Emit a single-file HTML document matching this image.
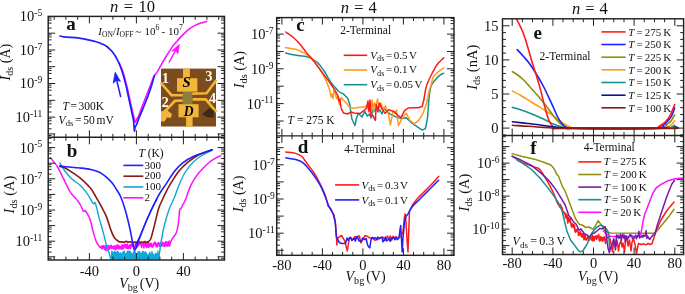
<!DOCTYPE html>
<html><head><meta charset="utf-8"><style>
html,body{margin:0;padding:0;background:#fff;width:685px;height:294px;overflow:hidden}
svg{display:block;will-change:transform}
</style></head><body>
<svg width="685" height="294" viewBox="0 0 685 294" font-family="'Liberation Serif', serif" fill="#111">
<rect width="685" height="294" fill="#fff"/>
<path d="M119,62.5 C119.5,63.5 120.8,66.2 121.7,68.5 C122.6,70.8 123.4,73.1 124.2,76 C125,78.9 125.9,82.5 126.8,86 C127.7,89.5 128.5,93.3 129.3,97 C130.1,100.7 130.9,104.7 131.7,108 C132.4,111.3 133.2,114.6 133.8,117 C134.4,119.4 134.5,121.8 135,122.2 C135.5,122.6 136,120.6 136.6,119.5 C137.2,118.4 137.9,117.5 138.8,115.5 C139.7,113.5 140.8,109.9 141.8,107.3 C142.8,104.7 143.7,102.5 144.7,100 C145.7,97.5 146.8,94.6 147.8,92 C148.8,89.4 149.7,87 150.7,84.5 C151.7,82 152.7,78.8 153.8,76.7 C154.9,74.6 156.1,73.8 157.1,72.1 C158.1,70.4 159.1,68.6 160.1,66.8 C161.1,65 162,63.3 163.1,61.4 C164.2,59.5 165.5,57.4 166.7,55.5 C167.9,53.6 169.1,51.8 170.2,50.1 C171.3,48.5 172,47.1 173.2,45.6 C174.4,44.1 175.8,42.5 177.2,41 C178.5,39.5 179.9,37.9 181.3,36.4 C182.7,34.9 183.9,33.7 185.4,32.3 C186.9,30.9 188.8,29.4 190.5,28.2 C192.2,27 193.9,26 195.6,25.1 C197.3,24.2 198.9,23.7 200.7,23.1 C202.5,22.5 205.6,21.8 206.6,21.5" fill="none" stroke="#ff10ff" stroke-width="1.6" stroke-linejoin="round" stroke-linecap="round"/>
<path d="M60,36 C60.7,36.1 62.4,36.7 64,36.9 C65.6,37.1 68,37.3 69.8,37.4 C71.6,37.5 73.2,37.4 75,37.6 C76.8,37.8 78.9,38.1 80.7,38.4 C82.5,38.7 84.2,39 86,39.4 C87.8,39.8 89.9,40.2 91.6,40.6 C93.3,41 94.5,41.3 96,41.7 C97.5,42.1 99,42.7 100.3,43.2 C101.5,43.7 102.4,44.1 103.5,44.6 C104.6,45.1 105.7,45.7 106.8,46.5 C107.9,47.3 109.1,48.5 110,49.3 C110.9,50.1 111.2,50.2 112.1,51.4 C113,52.6 114.5,54.6 115.5,56.3 C116.5,58 117.3,59.5 118.2,61.5 C119.1,63.5 120.1,65.9 121,68.3 C121.9,70.7 122.7,73.1 123.5,76 C124.3,78.9 125.3,82.6 126.1,85.9 C126.9,89.2 127.5,92.5 128.3,96 C129.1,99.5 130,103.8 130.7,107 C131.4,110.2 132,113.2 132.5,115.5 C133,117.8 133.3,119.2 133.6,121 C133.8,122.8 133.9,124.3 134,126 C134.1,127.7 134.2,130.8 134.4,131 C134.6,131.2 134.8,128.1 135.2,127 C135.6,125.9 136,125.9 136.6,124.5 C137.2,123.1 137.8,121 138.8,118.5 C139.8,116 141.2,112.6 142.4,109.8 C143.6,107 144.8,104 145.8,101.5 C146.8,99 147.5,97.2 148.5,94.5 C149.5,91.8 150.6,88.7 151.6,85.5 C152.6,82.3 153.9,77.2 154.4,75.5" fill="none" stroke="#1f1fff" stroke-width="1.7" stroke-linejoin="round" stroke-linecap="round"/>
<path d="M120.6,96.5 L115.6,75.5" fill="none" stroke="#1f1fff" stroke-width="1.5" stroke-linejoin="round" stroke-linecap="round"/>
<path d="M115.2,72.3 L113.2,83.2 L116.6,80.2 L120.4,81.4 Z" fill="#1f1fff" stroke="#1f1fff" stroke-width="0.8" stroke-linejoin="round"/>
<path d="M169.3,62 L177.4,47" fill="none" stroke="#ff10ff" stroke-width="1.5" stroke-linejoin="round" stroke-linecap="round"/>
<path d="M179.4,44.5 L171.6,51.2 L175.6,50.2 L177.9,53.8 Z" fill="#ff10ff" stroke="#ff10ff" stroke-width="0.8" stroke-linejoin="round"/>
<rect x="161" y="68.6" width="55" height="57.9" fill="#7b4c1e"/>
<g fill="#f3b63a" stroke="none">
<rect x="183.1" y="68.6" width="6.8" height="10.5"/>
<rect x="186.1" y="116" width="6.5" height="10.5"/>
</g>
<g fill="none" stroke="#f3b63a" stroke-width="2.6" stroke-linejoin="miter">
<path d="M160.5,82.5 L171.5,95.2 L184,95.2"/>
<path d="M216.5,80 L206.5,93.2 L192,93.6"/>
<path d="M184.5,100.5 L175,100.8 L162,114.5"/>
<path d="M192.5,99.4 L205.7,99.4 L216.5,112"/>
</g>
<path d="M161,111.5 L166.5,109.8 L172,114 L171,117.8 L167,117.6 L164.5,121.5 L161,121.5 Z" fill="#f3b63a"/>
<rect x="182.6" y="91.5" width="9.8" height="12.8" fill="#8c7d3c"/>
<rect x="177" y="78.2" width="20.4" height="13.4" fill="#f3b63a"/>
<rect x="178.5" y="104.2" width="20.1" height="13.1" fill="#f3b63a"/>
<path d="M201.9,114.5 L209.5,107.8 L214.2,111 L213.5,117.5 L208,117.2 Z" fill="#3e2a14"/>
<text x="186.6" y="86.6" font-size="14.6" font-weight="bold" font-style="italic" text-anchor="middle" fill="#000">S</text>
<text x="188.6" y="115.6" font-size="13.6" font-weight="bold" font-style="italic" text-anchor="middle" fill="#000">D</text>
<text x="165.3" y="82.7" font-size="14.6" font-weight="bold" text-anchor="middle" fill="#fffaf0">1</text>
<text x="165.2" y="107.4" font-size="14.6" font-weight="bold" text-anchor="middle" fill="#fffaf0">2</text>
<text x="208.9" y="80.6" font-size="14.6" font-weight="bold" text-anchor="middle" fill="#fffaf0">3</text>
<text x="212.5" y="102.6" font-size="14.6" font-weight="bold" text-anchor="middle" fill="#fffaf0">4</text>
<rect x="110.5" y="255.5" width="49" height="4" fill="#10a8d8"/>
<path d="M50.2,157.5 C51.4,159.1 55.5,163.6 57.6,167 C59.7,170.4 61,173.8 63,177.7 C65,181.6 67.8,187.6 69.4,190.5 C71,193.4 71.1,193.2 72.5,195 C73.9,196.8 76.6,199.4 78,201.2 C79.4,203 80.1,204.3 81,206 C81.9,207.7 82.7,210.4 83.4,211.2 C84.1,211.9 84.5,210.2 85,210.5 C85.5,210.8 85.9,211.2 86.7,212.7 C87.5,214.2 88.9,216 90,219.3 C91.1,222.6 92.3,228.7 93.4,232.6 C94.5,236.5 95.6,240.2 96.7,242.6 C97.8,245 99.5,246.4 100,247.2" fill="none" stroke="#ff10ff" stroke-width="1.5" stroke-linejoin="round" stroke-linecap="round"/>
<path d="M100,247.2 L101,247.4 L101.3,246.5 L101.6,249 L101.9,246 L102.2,248.4 L102.5,247.5 L102.8,245.9 L103.1,248.2 L103.4,245.7 L103.7,247.8 L104,245.9 L104.3,245.9 L104.6,247.7 L104.9,249.7 L105.2,246 L105.5,246.5 L105.8,248.6 L106.1,250.3 L106.4,248.3 L106.7,247.4 L107,250.4 L107.3,245.5 L107.6,249.7 L107.9,246.7 L108.2,245.9 L108.5,245.8 L108.8,246.8 L109.1,249.4 L109.4,246.1 L109.7,248.1 L110,248.4 L110.3,247 L110.6,247.9 L110.9,245.3 L111.2,245.3 L111.5,246 L111.8,248.5 L112.1,247.1 L112.4,246.5 L112.7,247.9 L113,247.2 L113.3,246.4 L113.6,248.9 L113.9,248.4 L114.2,246 L114.5,247.7 L114.8,247.5 L115.1,249.3 L115.4,248.5 L115.7,246.2 L116,249.7 L116.3,245.2 L116.6,246.8 L116.9,248.5 L117.2,245.4 L117.5,247.1 L117.8,244.7 L118.1,248 L118.4,248.5 L118.7,247.4 L119,249 L119.3,246.1 L119.6,248 L119.9,247.5 L120.2,247.4 L120.5,246.7 L120.8,248.7 L121.1,249.2 L121.4,246.7 L121.7,247.7 L122,244.5 L122.3,247.9 L122.6,247.6 L122.9,249.3 L123.2,248.4 L123.5,245.6 L123.8,246.1 L124.1,247.6 L124.4,244.2 L124.7,246.4 L125,244.9 L125.3,244.6 L125.6,244.3 L125.9,248 L126.2,244.6 L126.5,245.2 L126.8,245.9 L127.1,248.4 L127.4,244.3 L127.7,246.2 L128,246.7 L128.3,248.4 L128.6,248 L128.9,248.2 L129.2,245.2 L129.5,245.9 L129.8,245.5 L130.1,248.3 L130.4,248.6 L130.7,244.4 L131,244.5 L131.3,244.8 L131.6,244.8 L131.9,246.1 L132.2,246.6 L132.5,244.9 L132.8,243.5 L133.1,245.6 L133.4,245.4 L133.7,246.4 L134,248.3 L134.3,247 L134.6,246 L134.9,246.5 L135.2,246.8 L135.5,243.6 L135.8,247.9 L136.1,247.3 L136.4,247.8 L136.7,247.3 L137,245.2 L137.3,245.2 L137.6,243.7 L137.9,246.4 L138.2,243.4 L138.5,243.4 L138.8,244.1 L139.1,243.9 L139.4,244.8 L139.7,243.3 L140,243 L140.3,243.7 L140.6,243.5 L140.9,244.8 L141.2,243 L141.5,247.4 L141.8,246 L142.1,243.6 L142.4,244.1 L142.7,244.6 L143,244.7 L143.3,243.4 L143.6,247.1 L143.9,247.9 L144.2,245.1 L144.5,245.2 L144.8,243.1 L145.1,243.1 L145.4,244.4 L145.7,243.9 L146,246.9 L146.3,243.4 L146.6,242.6 L146.9,247.4 L147.2,245.2 L147.5,243.2 L147.8,245.2 L148.1,242.5 L148.4,245.1 L148.7,247.4 L149,246.8 L149.3,245.9 L149.6,243.7 L149.9,244.2 L150.2,243.1 L150.5,246.2 L150.8,245 L151.1,246.2 L151.4,243.9 L151.7,243.3 L152,246.3 L152.3,247.2 L152.6,246.5 L152.9,246.3 L153.2,246.3 L153.5,245.9 L153.8,243.2 L154.1,244.7 L154.4,243.8 L154.7,242.1 L155,242.1 L155.3,243.4 L155.6,243.2 L155.9,245.5 L156.2,246.8 L156.5,244.1 L156.8,246.7 L157.1,246.9 L157.4,246.7 L157.7,243.6 L158,242.9 L158.3,242.9 L158.6,242.7 L158.9,242.7 L159.2,244.9 L159.5,246.3 L159.8,246 L160.1,244.1 L160.4,244.9 L160.7,245.7 L161,241.9 L161.3,244.9 L161.6,246.2 L161.9,245.5 L162.2,245.3 L162.5,243.9 L162.8,242.3 L163.1,245.5 L163.4,243.1 L163.7,245.5 L164,246.3 L164.3,243.3 L164.6,243.3 L164.9,246.2 L165.2,245 L165.5,242.1 L165.8,241.8 L166.1,241.9 L166.4,245.8 L166.7,245.3 L167,241.8 L167.3,245.4 L167.6,246.1 L167.9,244.4 L168.2,242.8 L168.5,243.8 L168.8,241.6 L169.1,241 L169.4,246" fill="none" stroke="#ff10ff" stroke-width="1.5" stroke-linejoin="round" stroke-linecap="round"/>
<path d="M169.4,246 C169.8,244.8 170.8,241.4 172,239.2 C173.2,237 175.3,235.5 176.4,232.6 C177.5,229.7 178.1,225.3 178.6,221.5 C179.1,217.7 179.3,212.2 179.7,210 C180.1,207.8 180.5,209.2 181,208.5 C181.5,207.8 181.8,206.9 182.5,205.5 C183.2,204.1 184.1,202.8 185.3,200 C186.5,197.2 188.1,191.8 189.5,188.4 C190.9,185 192,182.7 193.8,179.8 C195.6,177 197.7,174.2 200.2,171.3 C202.7,168.5 206.3,164.8 208.8,162.7 C211.3,160.5 213.2,159.6 215.2,158.4 C217.2,157.2 219.7,156.2 220.6,155.8" fill="none" stroke="#ff10ff" stroke-width="1.5" stroke-linejoin="round" stroke-linecap="round"/>
<path d="M59.8,163.1 C60.7,164.5 63.1,168.7 65.1,171.3 C67.1,173.9 69.1,176.5 71.6,178.8 C74.1,181.1 77.6,182.9 80.1,185.2 C82.6,187.5 84.7,190.3 86.5,192.7 C88.3,195.1 89.6,197.7 90.8,199.5 C92,201.3 92.7,203.3 93.4,203.8 C94.1,204.3 94.5,202 95,202.5 C95.5,203 95.8,204.6 96.5,207 C97.2,209.4 97.8,212.8 98.9,217.1 C100,221.4 102,227.8 103.3,232.6 C104.6,237.4 105.6,242.6 106.6,245.9 C107.5,249.2 108.6,251.4 109,252.5" fill="none" stroke="#10a8d8" stroke-width="1.4" stroke-linejoin="round" stroke-linecap="round"/>
<path d="M109,252.5 L110,256.3 L110.3,257.3 L110.6,257.8 L110.9,259 L111.2,257.3 L111.5,258.8 L111.8,251.3 L112.1,255 L112.4,259 L112.7,256.6 L113,258.7 L113.3,252.1 L113.6,255 L113.9,253.2 L114.2,255.7 L114.5,255.9 L114.8,251.2 L115.1,252.9 L115.4,253.4 L115.7,258.8 L116,257.5 L116.3,252.4 L116.6,257.8 L116.9,252.3 L117.2,256.3 L117.5,252.2 L117.8,251.1 L118.1,258.4 L118.4,252.9 L118.7,252.9 L119,259.4 L119.3,258.4 L119.6,253.5 L119.9,259.2 L120.2,255.6 L120.5,256.8 L120.8,252.8 L121.1,259 L121.4,256.9 L121.7,259.2 L122,258.6 L122.3,253.6 L122.6,254.1 L122.9,252.5 L123.2,252.3 L123.5,251.6 L123.8,253.6 L124.1,256.2 L124.4,251.1 L124.7,256.8 L125,253.9 L125.3,253.7 L125.6,258 L125.9,255.1 L126.2,253.8 L126.5,255.1 L126.8,257 L127.1,251.6 L127.4,259.3 L127.7,251.3 L128,257.4 L128.3,258.2 L128.6,251.3 L128.9,257.7 L129.2,254.2 L129.5,256 L129.8,251.2 L130.1,251.5 L130.4,252.6 L130.7,259.1 L131,252.8 L131.3,257.4 L131.6,258.9 L131.9,259 L132.2,254 L132.5,254.1 L132.8,255.5 L133.1,257.6 L133.4,252 L133.7,257.4 L134,257.8 L134.3,258.3 L134.6,251.4 L134.9,259 L135.2,251.9 L135.5,254 L135.8,256.2 L136.1,258.8 L136.4,254 L136.7,258.9 L137,255.7 L137.3,253.7 L137.6,253.8 L137.9,252.6 L138.2,251.8 L138.5,252.4 L138.8,256.9 L139.1,259.5 L139.4,252.5 L139.7,251.5 L140,259.4 L140.3,255.6 L140.6,254.5 L140.9,253.1 L141.2,256.1 L141.5,258 L141.8,254.9 L142.1,254.6 L142.4,251.6 L142.7,258.8 L143,251.4 L143.3,255.2 L143.6,258.1 L143.9,252.2 L144.2,257.2 L144.5,259.1 L144.8,256.4 L145.1,257.7 L145.4,252 L145.7,254.8 L146,252.4 L146.3,258.2 L146.6,253.6 L146.9,254.9 L147.2,259.5 L147.5,258.3 L147.8,259.3 L148.1,254.9 L148.4,255.2 L148.7,257.2 L149,255.1 L149.3,253.5 L149.6,254.5 L149.9,252.3 L150.2,254.3 L150.5,259.4 L150.8,259.2 L151.1,256.4 L151.4,255.3 L151.7,253.9 L152,251.8 L152.3,253.4 L152.6,257.7 L152.9,258.4 L153.2,254.1 L153.5,257.7 L153.8,257.6 L154.1,256.9 L154.4,256.7 L154.7,257.5 L155,254.2 L155.3,257 L155.6,253.5 L155.9,255.2 L156.2,257.6 L156.5,256.9 L156.8,253.6 L157.1,259 L157.4,256.6 L157.7,256 L158,251.2 L158.3,255.7 L158.6,253.2 L158.9,256.7 L159.2,255" fill="none" stroke="#10a8d8" stroke-width="1.4" stroke-linejoin="round" stroke-linecap="round"/>
<path d="M159.2,255 C159.5,252.9 160.2,247.4 161,242.6 C161.8,237.8 162.9,231.3 164.2,226 C165.5,220.7 167.5,214.1 168.7,210.5 C169.9,206.9 170.2,206.8 171.2,204.5 C172.2,202.2 173.5,199.7 174.8,196.5 C176.1,193.3 177.1,189.6 178.8,185.5 C180.6,181.4 182.8,176 185.3,172 C187.8,168 191,164.4 193.8,161.6 C196.7,158.8 199.4,157.1 202.4,155.2 C205.4,153.3 210.4,151.1 212,150.3" fill="none" stroke="#10a8d8" stroke-width="1.4" stroke-linejoin="round" stroke-linecap="round"/>
<path d="M59.8,166.5 C60.7,166.8 62.8,166.8 65.1,168 C67.4,169.2 70.8,171.4 73.7,173.4 C76.6,175.4 79.5,177.3 82.3,179.8 C85.1,182.3 88.7,185.9 90.8,188.4 C92.9,190.9 93.1,192.1 94.8,195 C96.5,197.9 99.1,202.3 101.1,206 C103.1,209.7 104.9,213 106.6,217.1 C108.2,221.2 109.7,226.9 111,230.4 C112.3,233.9 113.1,235.9 114.4,237.8 C115.7,239.7 118.1,241 118.8,241.6" fill="none" stroke="#8b1a10" stroke-width="1.6" stroke-linejoin="round" stroke-linecap="round"/>
<path d="M118.8,241.6 L119.5,241.7 L120.7,242.1 L121.9,241.8 L123.1,242.1 L124.3,242.2 L125.5,241.5 L126.7,241.4 L127.9,242.4 L129.1,241.7 L130.3,241.7 L131.5,242.6 L132.7,242 L133.9,242.4 L135.1,242 L136.3,242.2 L137.5,241.6 L138.7,242.2 L139.9,242.4 L141.1,242 L142.3,242.3 L143.5,242.2 L144.7,241.5 L145.9,242.3 L147.1,242.1 L148.3,241.8" fill="none" stroke="#8b1a10" stroke-width="1.6" stroke-linejoin="round" stroke-linecap="round"/>
<path d="M148.3,241.8 C148.7,241.4 149.9,240.7 150.5,239.5 C151.1,238.3 151.2,237.8 152,234.8 C152.8,231.8 154.3,225.9 155.4,221.5 C156.5,217.1 157.5,212 158.7,208.3 C159.9,204.6 161.5,201.7 162.5,199.5 C163.5,197.3 163.2,197.6 164.5,195 C165.8,192.4 167.9,188 170.3,184.1 C172.7,180.2 176,174.9 178.8,171.3 C181.7,167.7 184.2,165.4 187.4,162.7 C190.6,160 194,157.3 198.1,155.2 C202.2,153 209.7,150.7 212,149.8" fill="none" stroke="#8b1a10" stroke-width="1.6" stroke-linejoin="round" stroke-linecap="round"/>
<path d="M59.8,165.9 C61.4,166.1 66,166.7 69.4,167 C72.8,167.3 76.5,167.6 80.1,168 C83.7,168.4 87.6,168.8 90.8,169.5 C94,170.2 96.9,171.1 99.4,172.3 C101.9,173.5 103.7,174.8 105.8,176.6 C107.9,178.4 110.4,180.8 112.2,183 C114,185.2 115.1,187.2 116.5,189.5 C117.9,191.8 119.3,193.5 120.8,197 C122.3,200.5 123.9,205.3 125.4,210.5 C126.9,215.7 128.7,223.3 129.8,228.2 C130.9,233.1 131.4,236.7 132.1,240 C132.8,243.3 133.4,246.3 133.8,248 C134.2,249.7 134.3,250.4 134.7,250.3 C135.1,250.2 135.7,248.9 136.3,247.5 C136.9,246.1 136.9,245.6 138.2,242 C139.5,238.4 142.2,231.2 144.3,226 C146.4,220.8 149,214.9 151,210.5 C153,206.1 155,202.3 156.5,199.4 C158,196.5 158.4,195.6 160,193 C161.6,190.4 163.6,187.7 166,184.1 C168.4,180.5 171.7,174.9 174.5,171.3 C177.3,167.7 179.9,165.2 183.1,162.7 C186.3,160.2 190.2,158 193.8,156.3 C197.4,154.6 201.5,153.5 204.5,152.4 C207.5,151.3 210.8,150.2 212,149.8" fill="none" stroke="#1f1fff" stroke-width="1.6" stroke-linejoin="round" stroke-linecap="round"/>
<path d="M135.8,245 L140,236 L146,221.5 L152,208.5 L157,198.5" fill="none" stroke="#1f1fff" stroke-width="1.3" stroke-linejoin="round" stroke-linecap="round"/>
<line x1="123.4" y1="165.4" x2="143.3" y2="165.4" stroke="#1f1fff" stroke-width="1.6"/>
<text x="144.6" y="168.5" font-size="11" text-anchor="start" >300</text>
<line x1="123.4" y1="176.2" x2="143.3" y2="176.2" stroke="#8b1a10" stroke-width="1.6"/>
<text x="144.6" y="179.3" font-size="11" text-anchor="start" >200</text>
<line x1="123.4" y1="187" x2="143.3" y2="187" stroke="#10a8d8" stroke-width="1.6"/>
<text x="144.6" y="190.1" font-size="11" text-anchor="start" >100</text>
<line x1="123.4" y1="197.8" x2="143.3" y2="197.8" stroke="#ff10ff" stroke-width="1.6"/>
<text x="144.6" y="200.9" font-size="11" text-anchor="start" >2</text>
<text x="138.6" y="156.6" font-size="11.5" word-spacing="-0.2"><tspan font-style="italic">T</tspan> (K)</text>
<path d="M285.6,53 C286.8,53.3 290.6,54.3 293,54.8 C295.4,55.3 297.8,55.5 300,55.8 C302.2,56.1 304.1,56.1 306.1,56.6 C308.1,57.1 310.1,57.8 312.2,58.9 C314.2,60 316.3,61.3 318.4,63.4 C320.4,65.5 322.8,69 324.5,71.5 C326.2,74 327.2,76.5 328.6,78.7 C330,80.9 331.5,83.3 332.7,84.8 C333.9,86.3 334.7,86.8 335.7,87.9 C336.7,89 337.5,90.5 338.8,91.5 C340.1,92.5 342.7,93.6 343.5,94" fill="none" stroke="#16908f" stroke-width="1.5" stroke-linejoin="round" stroke-linecap="round"/>
<path d="M343.5,94 L347.7,98.2 L349.8,104.5 L350.9,113 L352,119.3 L354,123.5 L355,125.5 L356.5,118 L358.5,113.3 L360,115 L362.1,116.9 L364.7,111.5 L367.4,116 L369.5,114 L371,118 L372.7,109.8 L374.5,111 L376.2,108 L378,112 L379.8,109.8 L382,114 L384,108 L386.9,111.5 L390.4,114.2 L395.7,116.9 L401,118.6 L406.3,117.7 L411.6,123 L417,126.6 L422.3,130.1 L425.3,128.8 L426.8,122 L427.6,116.9 L428.5,105" fill="none" stroke="#16908f" stroke-width="1.5" stroke-linejoin="round" stroke-linecap="round"/>
<path d="M428.5,105 C428.6,103.4 428.9,98.8 429.3,95.6 C429.7,92.4 430.1,88.6 431.1,86 C432.1,83.4 433.7,81.8 435.2,80 C436.7,78.2 438.9,76 440.3,74.9 C441.7,73.8 443.1,73.5 443.7,73.2" fill="none" stroke="#16908f" stroke-width="1.5" stroke-linejoin="round" stroke-linecap="round"/>
<path d="M285.6,47.6 C287.2,47.9 292.9,48.7 295.3,49.3 C297.7,49.9 298.2,50.3 300,51.1 C301.8,51.9 304.1,52.9 306.1,54.2 C308.1,55.5 310.3,57 312.2,58.9 C314.1,60.8 315.6,63 317.3,65.4 C319,67.9 320.9,70.9 322.4,73.6 C323.9,76.3 325.3,79 326.5,81.7 C327.7,84.4 329.1,88.5 329.6,89.9" fill="none" stroke="#ff9a1a" stroke-width="1.5" stroke-linejoin="round" stroke-linecap="round"/>
<path d="M329.6,89.9 L331.2,97 L332,94 L333,98.5 L334,90 L335,92 L336.2,97.5 L337.2,99 L338.3,96 L339.3,104.5 L340.5,100 L341.4,97.5 L343.5,100.3 L346.7,103.5 L349.8,107.7 L354,108.3 L358,107.6 L363.8,107.1 L367,106 L368.5,110 L370.9,109.8 L372,100 L373.5,112 L374.5,102.7 L376,106 L377.5,99 L379,108 L381,103 L383,110 L385.5,106 L388.6,115.1 L390.4,124.8 L393,111.5 L395,113 L396.5,110 L398.4,125.7 L402.8,116.9 L406.3,113.3 L409.9,120.4 L414.3,123.9 L418.7,120.4 L423.1,113.3 L426.7,102.7" fill="none" stroke="#ff9a1a" stroke-width="1.5" stroke-linejoin="round" stroke-linecap="round"/>
<path d="M426.7,102.7 C427.1,100.6 428.6,93.2 429.3,90.3 C430,87.3 430.4,87.3 431.1,85 C431.8,82.7 432.2,78.8 433.5,76.6 C434.8,74.3 436.9,72.9 438.6,71.5 C440.3,70.1 442.9,68.6 443.7,68" fill="none" stroke="#ff9a1a" stroke-width="1.5" stroke-linejoin="round" stroke-linecap="round"/>
<path d="M285.6,32 C286.9,32.9 290.8,35.3 293.1,37.3 C295.4,39.3 297.4,41.3 299.6,43.8 C301.8,46.3 304,49.5 306.1,52.1 C308.2,54.7 310.1,56.8 312.2,59.3 C314.2,61.8 316.3,64.7 318.4,67.4 C320.4,70.1 322.5,72.9 324.5,75.6 C326.5,78.3 328.9,81.4 330.6,83.8 C332.3,86.2 333.5,87.9 334.7,89.9 C335.9,91.9 337.1,94.2 337.8,96 C338.5,97.8 338.8,100.2 339,101" fill="none" stroke="#ff1a1a" stroke-width="1.5" stroke-linejoin="round" stroke-linecap="round"/>
<path d="M339,101 L339.8,99 L340.5,104.5 L341.4,108.8 L343.5,113 L347.7,114 L350.9,111.9 L354,113 L358.3,113.6 L360.3,113.3 L363.8,110.7 L366.5,108 L368,101 L369,112 L370,100 L371,116 L372.7,115.1 L374,118 L375.4,120.4 L376.2,104.5 L378,110 L379.5,103 L381.5,108 L385.1,113.3 L388.6,109.8 L393.9,111.5 L397.5,115.1 L401,117.7 L404.6,110.7 L408.1,108 L413.4,107.7 L418.7,107.7 L422.3,106.2 L424,99.2" fill="none" stroke="#ff1a1a" stroke-width="1.5" stroke-linejoin="round" stroke-linecap="round"/>
<path d="M424,99.2 C424.3,97.4 425.1,91.4 425.8,88.5 C426.5,85.6 427,84.4 428,82 C429,79.6 430.3,76.9 431.8,74 C433.3,71.1 435,67.4 437,64.7 C439,62 442.6,59 443.7,57.9" fill="none" stroke="#ff1a1a" stroke-width="1.5" stroke-linejoin="round" stroke-linecap="round"/>
<line x1="343.7" y1="55.3" x2="367.2" y2="55.3" stroke="#ff1a1a" stroke-width="1.6"/>
<text x="370.3" y="58.6" font-size="11" word-spacing="-1.1"><tspan font-style="italic">V</tspan><tspan font-size="8.2" dy="2.5">ds</tspan><tspan dy="-2.5"> = 0.5 V</tspan></text>
<line x1="343.7" y1="70" x2="367.2" y2="70" stroke="#ff9a1a" stroke-width="1.6"/>
<text x="370.3" y="73.3" font-size="11" word-spacing="-1.1"><tspan font-style="italic">V</tspan><tspan font-size="8.2" dy="2.5">ds</tspan><tspan dy="-2.5"> = 0.1 V</tspan></text>
<line x1="343.7" y1="84.7" x2="367.2" y2="84.7" stroke="#16908f" stroke-width="1.6"/>
<text x="370.3" y="88" font-size="11" word-spacing="-1.1"><tspan font-style="italic">V</tspan><tspan font-size="8.2" dy="2.5">ds</tspan><tspan dy="-2.5"> = 0.05 V</tspan></text>
<text x="340.2" y="34.1" font-size="11.5" text-anchor="start" >2-Terminal</text>
<text x="287.6" y="123.5" font-size="11.5"><tspan font-style="italic">T</tspan> = 275 K</text>
<path d="M285.8,151.9 C287.4,152.2 292.9,152.6 295.6,153.4 C298.3,154.2 300.1,154.9 302.1,156.7 C304.1,158.5 305.6,161.6 307.6,164.3 C309.6,167 312.1,169.9 314.1,173 C316.1,176.1 317.8,179.2 319.6,182.8 C321.4,186.4 323.6,191 325,194.8 C326.4,198.6 327.5,203.6 328,205.4" fill="none" stroke="#ff1a1a" stroke-width="1.5" stroke-linejoin="round" stroke-linecap="round"/>
<path d="M328,205.4 L331,209 L333.2,213.7 L334,215 L335.3,222 L336.3,234.4 L336.9,245 L337.3,238.6 L339,237 L341.5,235.5 L343,238 L344.6,240.6 L346,246 L347.3,251 L348.5,243 L349.8,237.5 L351,237.8 L352.4,240 L353.8,238 L355.2,236.5 L356.6,238.6 L358,236.1 L359.4,236 L360.8,242.8 L362.2,240.2 L363.6,238.6 L365,235.7 L366.4,235.9 L367.8,236.5 L369.2,237.7 L370.6,238.1 L372,238 L373.4,237.8 L374.8,240.4 L376.2,239.6 L377.6,237.1 L379,239.1 L380.4,237.5 L381.8,237.5 L383.2,237.3 L384.6,240 L386,240.3 L387.4,236 L388.8,239.3 L390.2,236 L391.6,240.2 L393,236.2 L394.4,238.5 L395.8,236.5 L397.2,237.7 L399.2,237.3 L401,236 L403,232 L404.3,218 L405.1,213.9 L406,222 L407,240 L408,252 L408.8,230 L409.5,211" fill="none" stroke="#ff1a1a" stroke-width="1.5" stroke-linejoin="round" stroke-linecap="round"/>
<path d="M409.5,211 C410,210 411.2,207.1 412.4,205.1 C413.6,203.1 415.1,201.1 416.8,199.2 C418.5,197.2 420.2,195.8 422.6,193.4 C425,191 428.7,187.4 431.4,184.6 C434.1,181.8 437.5,177.8 438.7,176.4" fill="none" stroke="#ff1a1a" stroke-width="1.5" stroke-linejoin="round" stroke-linecap="round"/>
<path d="M285.8,157.8 C287.4,158.1 292.9,158.8 295.6,159.5 C298.3,160.2 299.9,160.6 302.1,162.1 C304.3,163.6 306.5,166.1 308.7,168.7 C310.9,171.2 313,174.1 315.2,177.4 C317.4,180.7 319.9,184.5 321.8,188.3 C323.7,192.1 325.4,197.1 326.5,200 C327.6,202.9 328.2,204.8 328.5,205.8" fill="none" stroke="#1f1fff" stroke-width="1.5" stroke-linejoin="round" stroke-linecap="round"/>
<path d="M328.5,205.8 L333.2,214 L335.3,222.5 L336.3,236.5 L339.4,242.7 L342,243.5 L345.6,243.2 L347,238 L348.2,240.3 L349.4,237.7 L350.6,237.5 L351.8,240.5 L353,239.5 L354.2,238.2 L355.4,241.1 L356.6,236.8 L357.8,237.5 L359,240.9 L360.2,241 L361.4,241.6 L362.6,238 L363.8,239.2 L365,239.6 L366.2,238.6 L367.4,244.3 L368.6,247 L369.8,247.8 L371,239.6 L372.2,237.4 L373.4,239 L374.6,237.8 L375.8,238 L377,239.8 L378.2,237.4 L379.4,237.9 L380.6,237.7 L381.8,237.1 L383,241.7 L384.2,240.4 L385.4,236.9 L386.6,240.9 L387.8,240 L389,238.9 L390.2,241.3 L391.4,237.8 L392.6,238.6 L393.8,237.4 L395,239.8 L396.2,237.8 L397.4,239.7 L399,238 L400.2,228 L400.7,225.6 L401.5,240 L402.2,252 L403,238 L404.5,222.6 L406,216" fill="none" stroke="#1f1fff" stroke-width="1.5" stroke-linejoin="round" stroke-linecap="round"/>
<path d="M406,216 C406.3,215.7 406.9,215.5 408,213.9 C409.1,212.3 410.4,208.9 412.4,206.5 C414.3,204.1 417,201.9 419.7,199.2 C422.4,196.5 425.3,193.7 428.5,190.5 C431.7,187.3 437,181.9 438.7,180.2" fill="none" stroke="#1f1fff" stroke-width="1.5" stroke-linejoin="round" stroke-linecap="round"/>
<line x1="335.1" y1="184.9" x2="359.2" y2="184.9" stroke="#ff1a1a" stroke-width="1.6"/>
<text x="361.4" y="188.5" font-size="11" word-spacing="-1.1"><tspan font-style="italic">V</tspan><tspan font-size="8.2" dy="2.5">ds</tspan><tspan dy="-2.5"> = 0.3 V</tspan></text>
<line x1="335.1" y1="199.9" x2="359.2" y2="199.9" stroke="#1f1fff" stroke-width="1.6"/>
<text x="361.4" y="203.5" font-size="11" word-spacing="-1.1"><tspan font-style="italic">V</tspan><tspan font-size="8.2" dy="2.5">ds</tspan><tspan dy="-2.5"> = 0.1 V</tspan></text>
<text x="344.2" y="153.4" font-size="11.5" text-anchor="start" >4-Terminal</text>
<path d="M512.4,107.4 C514.1,107.9 519.2,109.3 522.7,110.5 C526.2,111.7 529.6,113 533.1,114.4 C536.6,115.8 540,117.5 543.5,119.1 C547,120.7 550.3,122.8 553.8,124.2 C557.2,125.6 561.5,126.9 564.2,127.6 C566.9,128.3 568.4,128.2 570,128.3 C571.6,128.4 557.7,128.3 574,128.3 C590.3,128.3 651.8,128.5 668,128.3 C684.2,128.1 669.9,127.7 671,127.2 C672.1,126.7 674.1,125.6 674.7,125.3" fill="none" stroke="#16908f" stroke-width="1.6" stroke-linejoin="round" stroke-linecap="round"/>
<path d="M512.4,91.1 C513.7,91.8 517.1,93.3 520.1,95 C523.1,96.7 527,99.3 530.5,101.5 C534,103.7 537.4,105.8 540.9,107.9 C544.4,110.1 547.8,112 551.2,114.4 C554.7,116.8 558.6,120.1 561.6,122.2 C564.6,124.3 567.2,125.8 569.4,126.8 C571.6,127.8 573.6,127.9 575,128.2 C576.4,128.4 563,128.3 578,128.3 C593,128.3 650,128.6 665,128.3 C680,128.1 666.9,127.4 668,126.8 C669.1,126.2 670.4,125.5 671.5,124.5 C672.6,123.5 674.2,121.3 674.7,120.7" fill="none" stroke="#ff9a1a" stroke-width="1.6" stroke-linejoin="round" stroke-linecap="round"/>
<path d="M512.4,71.7 C513.3,72.2 516,73.7 517.8,75 C519.6,76.3 521.4,77.9 523.1,79.5 C524.8,81.1 525.4,81.8 527.9,84.6 C530.4,87.4 534.8,92.2 538.3,96.3 C541.8,100.4 545.6,105.3 548.6,109.2 C551.6,113.1 554,116.9 556.4,119.6 C558.8,122.3 560.9,124.1 563,125.5 C565.1,126.9 567.3,127.5 569,128 C570.7,128.5 557.7,128.2 573,128.3 C588.3,128.4 645.5,128.9 661,128.3 C676.5,127.8 664.1,126.2 665.7,125 C667.3,123.8 669.2,123.1 670.7,121.4 C672.2,119.7 674,116.1 674.7,115" fill="none" stroke="#8f8f10" stroke-width="1.6" stroke-linejoin="round" stroke-linecap="round"/>
<path d="M517.2,49.6 C518.2,50.7 521.1,53.7 523.1,56 C525.1,58.3 527.3,60.6 529.4,63.4 C531.5,66.2 533.4,69.2 535.7,73 C538.1,76.8 540.9,81.5 543.5,86.5 C546.1,91.5 548.8,97.6 551.2,102.7 C553.6,107.8 555.9,113.5 557.7,117 C559.5,120.5 560.6,122.1 562,123.8 C563.4,125.5 564.5,126.5 566,127.3 C567.5,128.1 555.7,128.1 571,128.3 C586.3,128.5 642.8,128.7 658,128.3 C673.2,127.9 661,127.1 662.5,126 C664,124.9 665.6,123.2 667.1,121.6 C668.6,120 670.1,118.7 671.4,116.4 C672.7,114.1 674.2,109.3 674.7,107.9" fill="none" stroke="#1f1fff" stroke-width="1.6" stroke-linejoin="round" stroke-linecap="round"/>
<path d="M516.8,19.5 C517.3,20.6 519,23.6 520,25.8 C521,28 521.9,29.5 523.1,32.8 C524.3,36.1 525.9,40.8 527.3,45.4 C528.7,50 530,55.2 531.5,60.2 C533,65.2 534.7,70.1 536.3,75.2 C537.9,80.3 539.5,85.9 540.9,91.1 C542.3,96.3 543.4,101.8 544.7,106.6 C546,111.3 547.3,116.4 548.6,119.6 C549.9,122.8 551.1,124.6 552.5,126 C553.9,127.4 555.8,127.8 557,128.2 C558.2,128.6 543.7,128.3 560,128.3 C576.3,128.3 638.6,128.6 655,128.3 C671.4,128 657.4,127.2 658.6,126.6 C659.8,126 660.8,125.4 662,124.5 C663.2,123.6 664.4,122.9 665.7,121.4 C667,119.9 668.5,118.5 670,115.7 C671.5,112.9 673.9,106.4 674.7,104.5" fill="none" stroke="#ff1a1a" stroke-width="1.6" stroke-linejoin="round" stroke-linecap="round"/>
<path d="M512.4,121.7 C515,122 522.7,122.9 527.9,123.5 C533.1,124.1 538.3,124.8 543.5,125.5 C548.7,126.2 554.6,127.1 559,127.6 C563.4,128.1 567.5,128.2 570,128.3 C572.5,128.4 557.7,128.3 574,128.3 C590.3,128.3 651.2,128.6 668,128.3 C684.8,128 673.6,127 674.7,126.7" fill="none" stroke="#101090" stroke-width="1.6" stroke-linejoin="round" stroke-linecap="round"/>
<path d="M512.4,125.3 C515,125.5 522.7,125.9 527.9,126.3 C533.1,126.7 538.3,127.1 543.5,127.4 C548.7,127.7 555.9,128.1 559,128.3 C562.1,128.5 543.8,128.5 562,128.5 C580.2,128.5 649.2,128.8 668,128.5 C686.8,128.2 673.6,127.2 674.7,127" fill="none" stroke="#8b1a10" stroke-width="1.6" stroke-linejoin="round" stroke-linecap="round"/>
<line x1="601.4" y1="31.9" x2="625.6" y2="31.9" stroke="#ff1a1a" stroke-width="1.6"/>
<text x="628.3" y="35.6" font-size="11" word-spacing="-0.7"><tspan font-style="italic">T</tspan> = 275 K</text>
<line x1="601.4" y1="44.5" x2="625.6" y2="44.5" stroke="#1f1fff" stroke-width="1.6"/>
<text x="628.3" y="48.2" font-size="11" word-spacing="-0.7"><tspan font-style="italic">T</tspan> = 250 K</text>
<line x1="601.4" y1="57.2" x2="625.6" y2="57.2" stroke="#8f8f10" stroke-width="1.6"/>
<text x="628.3" y="60.9" font-size="11" word-spacing="-0.7"><tspan font-style="italic">T</tspan> = 225 K</text>
<line x1="601.4" y1="69.8" x2="625.6" y2="69.8" stroke="#ff9a1a" stroke-width="1.6"/>
<text x="628.3" y="73.5" font-size="11" word-spacing="-0.7"><tspan font-style="italic">T</tspan> = 200 K</text>
<line x1="601.4" y1="82.5" x2="625.6" y2="82.5" stroke="#16908f" stroke-width="1.6"/>
<text x="628.3" y="86.2" font-size="11" word-spacing="-0.7"><tspan font-style="italic">T</tspan> = 150 K</text>
<line x1="601.4" y1="95.2" x2="625.6" y2="95.2" stroke="#101090" stroke-width="1.6"/>
<text x="628.3" y="98.9" font-size="11" word-spacing="-0.7"><tspan font-style="italic">T</tspan> = 125 K</text>
<line x1="601.4" y1="107.8" x2="625.6" y2="107.8" stroke="#8b1a10" stroke-width="1.6"/>
<text x="628.3" y="111.5" font-size="11" word-spacing="-0.7"><tspan font-style="italic">T</tspan> = 100 K</text>
<text x="539.6" y="59.8" font-size="11.5" text-anchor="start" >2-Terminal</text>
<path d="M512.1,153.6 L521.3,156.2 L533.6,158.9 L543.8,162.3 L550.9,165 L554,168.5 L557,174.6 L558.5,176 L559.1,177.7 L562.1,185.8 L565,190.9 L567,196 L570.5,205.4 L573,212 L575.6,218.9 L579.1,224.1 L582,225 L586,227.5 L589,227 L592.9,229.3 L596.4,224.1 L598.1,220.6 L600.7,224.1 L603,228 L605.1,231 L608,232.5 L610.3,232.9 L654.3,233.2 L656.2,231.9 L661,226 L668.1,217.6 L674,209.3" fill="none" stroke="#8f8f10" stroke-width="1.5" stroke-linejoin="round" stroke-linecap="round"/>
<path d="M517.2,160.3 C518.2,160.8 521.4,162.2 523.4,163 C525.4,163.8 527.5,164.7 529.5,165.4 C531.5,166.1 534.2,167 535.6,167.4 C537,167.8 537.1,167.5 538,168 C538.9,168.5 539.9,169.6 540.7,170.5 C541.5,171.4 541.9,172.2 542.8,173.6 C543.6,175 544.6,176.7 545.8,178.7 C547,180.7 548.5,183.2 549.9,185.8 C551.3,188.4 552.8,191.3 554,194 C555.2,196.7 556,199.9 557,202.1 C558,204.3 559.5,206.2 560,207" fill="none" stroke="#ff1a1a" stroke-width="1.5" stroke-linejoin="round" stroke-linecap="round"/>
<path d="M560,207 L560.5,204.6 L561,207.7 L561.4,206.7 L561.9,208 L562.3,208.1 L562.8,212 L563.2,211.9 L563.7,211.7 L564.1,213.8 L564.6,213 L565,213.1 L565.5,217.8 L565.9,213.7 L566.4,216.5 L566.8,219 L567.3,215.6 L567.7,223.1 L568.2,221.1 L568.6,217.6 L569.1,221.5 L569.5,221.6 L570,218.4 L570.4,221 L570.9,223.6 L571.3,226.3 L571.8,227.1 L572.2,223.4 L572.7,226.1 L573.1,227 L573.6,224.6 L574,227.9 L574.5,225.3 L574.9,231.1 L575.4,232.3 L575.8,229.5 L576.3,230.1 L576.7,231.5 L577.2,229.2 L577.6,230 L578.1,232 L578.5,235.6 L579,233.6 L579.4,232.4 L579.9,234.8 L580.3,231.4 L580.8,232.3 L581.2,236.2 L581.7,236.9 L582.1,237.2 L582.6,233.8 L583,234.6 L583.5,233.4 L583.9,239.8 L584.4,234.9 L584.8,239.1 L585.3,235.3 L585.7,238.9 L586.2,240.2 L586.6,238.3 L587.1,238.2 L587.5,238.5 L588,236.6 L588.4,240.8 L588.9,240.7 L589.3,237.6 L589.8,237.6 L590.2,236.2 L590.7,237.3 L591.1,239.9 L591.6,236.9 L592,240 L592.5,235.5 L592.9,241 L593.4,236.6 L593.8,237.6 L594.3,240.5 L594.7,236.6 L595.2,237.5 L595.6,237.7 L596.1,235.7 L596.5,239.3 L597,238.5 L597.4,237.1 L597.9,235.5 L598.3,237.2 L598.8,234.4 L599.2,240.1 L599.7,241.1 L600.1,237.9 L600.6,236.8 L601,240.7 L601.5,237.3 L601.9,239 L602.4,237.7 L602.8,241.3 L603.3,238.6 L603.7,237.3 L604.2,239.6 L604.6,236.7 L605.1,240.6 L605.5,243.5 L606,239.7 L607,238 L608.5,236 L610.3,239.7 L611.5,247 L612.5,251.8 L613.5,243 L614.5,240 L616,246 L617,240 L618.5,251 L619.5,244 L621,241 L622,247 L623,243 L624.5,252 L625.5,241 L627,238 L628,246 L629.5,240 L631,251 L632,242 L633.5,239 L635,244 L636.5,254 L637.5,248 L638.5,243.5 L641,244.5 L644,243.8 L646,244.8 L648,243.5 L650,244.5 L652,243.8 L653.2,240 L654.8,235 L656.2,230.7 L661,220 L666.9,210.5 L674,202.1" fill="none" stroke="#ff1a1a" stroke-width="1.5" stroke-linejoin="round" stroke-linecap="round"/>
<path d="M512.1,156.2 L521.3,162.3 L531.5,169.5 L539.7,177.7 L547.9,187.9 L554,196 L558.1,202.1 L560,206 L562.2,211.6 L564.2,219.9 L566.9,231 L570.4,239.7 L572.5,242.5 L575.6,246.6 L578,250 L579.9,251.8 L581.5,251.5 L583.4,250 L587.7,243.1 L590,236.5 L592.1,232.7 L596.4,227.5 L600.7,224.9 L604.2,226.7 L606.8,229.3 L608.5,232.7 L609.4,244.9 L609.8,249" fill="none" stroke="#16908f" stroke-width="1.5" stroke-linejoin="round" stroke-linecap="round"/>
<path d="M603.3,231 L606.5,234 L610.3,236.2 L614,236.4 L620,236.7 L625,236.2 L630,236.6 L638.5,236.5 L640.7,234.3 L641.9,228.3 L643.1,221.2 L644.8,214 L646.7,209.3 L649,203.3 L652.6,193.8 L656.2,187.9 L661,184.3 L668.1,180.7 L675.2,178.8 L680,178.3 L683,178" fill="none" stroke="#ff10ff" stroke-width="1.5" stroke-linejoin="round" stroke-linecap="round"/>
<path d="M512.1,156.2 L521.3,160.3 L531.5,165.4 L541.7,173.6 L549.9,181.7 L556,189.9 L561.1,198.1 L565.2,205 L568.7,215.4 L571,218 L573.9,222.3 L576,224 L579.1,230.1 L581,229 L584.3,233.6 L587,235 L589.5,237.1 L592,234 L594.7,232.7 L597,231 L599.9,228.4 L602,229 L605.1,226.7 L606.8,239.7 L608,248 L609.4,252.7 L610.5,248 L612,244.9 L613.7,238.8 L615.5,250 L616.5,235.1 L617.3,237.5 L618.1,235.3 L618.9,238.4 L619.7,236.8 L620.5,234.2 L621.3,240.8 L622.1,235.4 L622.9,234.4 L623.7,238 L624.5,235.3 L625.3,242.2 L626.1,236.1 L626.9,238.5 L627.7,239 L628.5,237.1 L629.3,236.7 L630.1,234.4 L630.9,235.4 L631.7,235.3 L632.5,238.8 L633.3,238.2 L634.1,238 L634.9,236.7 L635.7,235.2 L636.5,238.8 L637.3,236.1 L638.1,236.2 L638.9,231.3 L639.7,237.9 L640.5,236.8 L641.3,237.1 L642.1,235.4 L642.9,237.1 L643.7,235.1 L644.5,236 L645.3,236 L646.1,230.6 L646.9,238.4 L647.7,236.1 L648.5,237.7 L649.3,239.2 L650.1,239.3 L650.9,237.3 L651.7,236.8 L652.5,235.5 L654.5,234.5 L656,230 L657.4,224.8 L662.1,210.5 L666.9,196.2 L671.7,184.3 L674.5,180.5" fill="none" stroke="#7a1aa8" stroke-width="1.5" stroke-linejoin="round" stroke-linecap="round"/>
<line x1="578.3" y1="161.9" x2="601.4" y2="161.9" stroke="#ff1a1a" stroke-width="1.6"/>
<text x="603.8" y="165.3" font-size="11" word-spacing="-0.7"><tspan font-style="italic">T</tspan> = 275 K</text>
<line x1="578.3" y1="174.5" x2="601.4" y2="174.5" stroke="#8f8f10" stroke-width="1.6"/>
<text x="603.8" y="177.9" font-size="11" word-spacing="-0.7"><tspan font-style="italic">T</tspan> = 200 K</text>
<line x1="578.3" y1="187.1" x2="601.4" y2="187.1" stroke="#7a1aa8" stroke-width="1.6"/>
<text x="603.8" y="190.5" font-size="11" word-spacing="-0.7"><tspan font-style="italic">T</tspan> = 100 K</text>
<line x1="578.3" y1="199.7" x2="601.4" y2="199.7" stroke="#16908f" stroke-width="1.6"/>
<text x="603.8" y="203.1" font-size="11" word-spacing="-0.7"><tspan font-style="italic">T</tspan> = 50 K</text>
<line x1="578.3" y1="212.3" x2="601.4" y2="212.3" stroke="#ff10ff" stroke-width="1.6"/>
<text x="603.8" y="215.7" font-size="11" word-spacing="-0.7"><tspan font-style="italic">T</tspan> = 20 K</text>
<text x="583.8" y="151.2" font-size="11.5" text-anchor="start" >4-Terminal</text>
<text x="512.6" y="245.3" font-size="12" word-spacing="-0.7"><tspan font-style="italic">V</tspan><tspan font-size="9" dy="2.5">ds</tspan><tspan dy="-2.5"> = 0.3 V</tspan></text>
<rect x="48.2" y="16.4" width="176.3" height="243.6" fill="none" stroke="#222" stroke-width="1.45"/>
<line x1="48.2" y1="137.3" x2="224.5" y2="137.3" stroke="#222" stroke-width="1.4"/>
<line x1="54.2" y1="137.3" x2="54.2" y2="133.9" stroke="#222" stroke-width="1.0"/>
<line x1="54.2" y1="16.4" x2="54.2" y2="19.8" stroke="#222" stroke-width="1.0"/>
<line x1="65.9" y1="137.3" x2="65.9" y2="133.9" stroke="#222" stroke-width="1.0"/>
<line x1="65.9" y1="16.4" x2="65.9" y2="19.8" stroke="#222" stroke-width="1.0"/>
<line x1="77.7" y1="137.3" x2="77.7" y2="133.9" stroke="#222" stroke-width="1.0"/>
<line x1="77.7" y1="16.4" x2="77.7" y2="19.8" stroke="#222" stroke-width="1.0"/>
<line x1="89.4" y1="137.3" x2="89.4" y2="130.3" stroke="#222" stroke-width="1.0"/>
<line x1="89.4" y1="16.4" x2="89.4" y2="23.4" stroke="#222" stroke-width="1.0"/>
<line x1="101.2" y1="137.3" x2="101.2" y2="133.9" stroke="#222" stroke-width="1.0"/>
<line x1="101.2" y1="16.4" x2="101.2" y2="19.8" stroke="#222" stroke-width="1.0"/>
<line x1="112.9" y1="137.3" x2="112.9" y2="133.9" stroke="#222" stroke-width="1.0"/>
<line x1="112.9" y1="16.4" x2="112.9" y2="19.8" stroke="#222" stroke-width="1.0"/>
<line x1="124.7" y1="137.3" x2="124.7" y2="133.9" stroke="#222" stroke-width="1.0"/>
<line x1="124.7" y1="16.4" x2="124.7" y2="19.8" stroke="#222" stroke-width="1.0"/>
<line x1="136.4" y1="137.3" x2="136.4" y2="130.3" stroke="#222" stroke-width="1.0"/>
<line x1="136.4" y1="16.4" x2="136.4" y2="23.4" stroke="#222" stroke-width="1.0"/>
<line x1="148.2" y1="137.3" x2="148.2" y2="133.9" stroke="#222" stroke-width="1.0"/>
<line x1="148.2" y1="16.4" x2="148.2" y2="19.8" stroke="#222" stroke-width="1.0"/>
<line x1="159.9" y1="137.3" x2="159.9" y2="133.9" stroke="#222" stroke-width="1.0"/>
<line x1="159.9" y1="16.4" x2="159.9" y2="19.8" stroke="#222" stroke-width="1.0"/>
<line x1="171.7" y1="137.3" x2="171.7" y2="133.9" stroke="#222" stroke-width="1.0"/>
<line x1="171.7" y1="16.4" x2="171.7" y2="19.8" stroke="#222" stroke-width="1.0"/>
<line x1="183.4" y1="137.3" x2="183.4" y2="130.3" stroke="#222" stroke-width="1.0"/>
<line x1="183.4" y1="16.4" x2="183.4" y2="23.4" stroke="#222" stroke-width="1.0"/>
<line x1="195.2" y1="137.3" x2="195.2" y2="133.9" stroke="#222" stroke-width="1.0"/>
<line x1="195.2" y1="16.4" x2="195.2" y2="19.8" stroke="#222" stroke-width="1.0"/>
<line x1="206.9" y1="137.3" x2="206.9" y2="133.9" stroke="#222" stroke-width="1.0"/>
<line x1="206.9" y1="16.4" x2="206.9" y2="19.8" stroke="#222" stroke-width="1.0"/>
<line x1="218.7" y1="137.3" x2="218.7" y2="133.9" stroke="#222" stroke-width="1.0"/>
<line x1="218.7" y1="16.4" x2="218.7" y2="19.8" stroke="#222" stroke-width="1.0"/>
<line x1="54.2" y1="260" x2="54.2" y2="256.6" stroke="#222" stroke-width="1.0"/>
<line x1="54.2" y1="137.3" x2="54.2" y2="140.7" stroke="#222" stroke-width="1.0"/>
<line x1="65.9" y1="260" x2="65.9" y2="256.6" stroke="#222" stroke-width="1.0"/>
<line x1="65.9" y1="137.3" x2="65.9" y2="140.7" stroke="#222" stroke-width="1.0"/>
<line x1="77.7" y1="260" x2="77.7" y2="256.6" stroke="#222" stroke-width="1.0"/>
<line x1="77.7" y1="137.3" x2="77.7" y2="140.7" stroke="#222" stroke-width="1.0"/>
<line x1="89.4" y1="260" x2="89.4" y2="253" stroke="#222" stroke-width="1.0"/>
<line x1="89.4" y1="137.3" x2="89.4" y2="144.3" stroke="#222" stroke-width="1.0"/>
<line x1="101.2" y1="260" x2="101.2" y2="256.6" stroke="#222" stroke-width="1.0"/>
<line x1="101.2" y1="137.3" x2="101.2" y2="140.7" stroke="#222" stroke-width="1.0"/>
<line x1="112.9" y1="260" x2="112.9" y2="256.6" stroke="#222" stroke-width="1.0"/>
<line x1="112.9" y1="137.3" x2="112.9" y2="140.7" stroke="#222" stroke-width="1.0"/>
<line x1="124.7" y1="260" x2="124.7" y2="256.6" stroke="#222" stroke-width="1.0"/>
<line x1="124.7" y1="137.3" x2="124.7" y2="140.7" stroke="#222" stroke-width="1.0"/>
<line x1="136.4" y1="260" x2="136.4" y2="253" stroke="#222" stroke-width="1.0"/>
<line x1="136.4" y1="137.3" x2="136.4" y2="144.3" stroke="#222" stroke-width="1.0"/>
<line x1="148.2" y1="260" x2="148.2" y2="256.6" stroke="#222" stroke-width="1.0"/>
<line x1="148.2" y1="137.3" x2="148.2" y2="140.7" stroke="#222" stroke-width="1.0"/>
<line x1="159.9" y1="260" x2="159.9" y2="256.6" stroke="#222" stroke-width="1.0"/>
<line x1="159.9" y1="137.3" x2="159.9" y2="140.7" stroke="#222" stroke-width="1.0"/>
<line x1="171.7" y1="260" x2="171.7" y2="256.6" stroke="#222" stroke-width="1.0"/>
<line x1="171.7" y1="137.3" x2="171.7" y2="140.7" stroke="#222" stroke-width="1.0"/>
<line x1="183.4" y1="260" x2="183.4" y2="253" stroke="#222" stroke-width="1.0"/>
<line x1="183.4" y1="137.3" x2="183.4" y2="144.3" stroke="#222" stroke-width="1.0"/>
<line x1="195.2" y1="260" x2="195.2" y2="256.6" stroke="#222" stroke-width="1.0"/>
<line x1="195.2" y1="137.3" x2="195.2" y2="140.7" stroke="#222" stroke-width="1.0"/>
<line x1="206.9" y1="260" x2="206.9" y2="256.6" stroke="#222" stroke-width="1.0"/>
<line x1="206.9" y1="137.3" x2="206.9" y2="140.7" stroke="#222" stroke-width="1.0"/>
<line x1="218.7" y1="260" x2="218.7" y2="256.6" stroke="#222" stroke-width="1.0"/>
<line x1="218.7" y1="137.3" x2="218.7" y2="140.7" stroke="#222" stroke-width="1.0"/>
<line x1="48.2" y1="135.5" x2="51.6" y2="135.5" stroke="#222" stroke-width="1.0"/>
<line x1="224.5" y1="135.5" x2="221.1" y2="135.5" stroke="#222" stroke-width="1.0"/>
<line x1="48.2" y1="133.9" x2="55.2" y2="133.9" stroke="#222" stroke-width="1.0"/>
<line x1="224.5" y1="133.9" x2="217.5" y2="133.9" stroke="#222" stroke-width="1.0"/>
<line x1="48.2" y1="128.8" x2="51.6" y2="128.8" stroke="#222" stroke-width="1.0"/>
<line x1="224.5" y1="128.8" x2="221.1" y2="128.8" stroke="#222" stroke-width="1.0"/>
<line x1="48.2" y1="123.8" x2="51.6" y2="123.8" stroke="#222" stroke-width="1.0"/>
<line x1="224.5" y1="123.8" x2="221.1" y2="123.8" stroke="#222" stroke-width="1.0"/>
<line x1="48.2" y1="120.8" x2="51.6" y2="120.8" stroke="#222" stroke-width="1.0"/>
<line x1="224.5" y1="120.8" x2="221.1" y2="120.8" stroke="#222" stroke-width="1.0"/>
<line x1="48.2" y1="118.7" x2="51.6" y2="118.7" stroke="#222" stroke-width="1.0"/>
<line x1="224.5" y1="118.7" x2="221.1" y2="118.7" stroke="#222" stroke-width="1.0"/>
<line x1="48.2" y1="117.1" x2="55.2" y2="117.1" stroke="#222" stroke-width="1.0"/>
<line x1="224.5" y1="117.1" x2="217.5" y2="117.1" stroke="#222" stroke-width="1.0"/>
<line x1="48.2" y1="112" x2="51.6" y2="112" stroke="#222" stroke-width="1.0"/>
<line x1="224.5" y1="112" x2="221.1" y2="112" stroke="#222" stroke-width="1.0"/>
<line x1="48.2" y1="107" x2="51.6" y2="107" stroke="#222" stroke-width="1.0"/>
<line x1="224.5" y1="107" x2="221.1" y2="107" stroke="#222" stroke-width="1.0"/>
<line x1="48.2" y1="104" x2="51.6" y2="104" stroke="#222" stroke-width="1.0"/>
<line x1="224.5" y1="104" x2="221.1" y2="104" stroke="#222" stroke-width="1.0"/>
<line x1="48.2" y1="101.9" x2="51.6" y2="101.9" stroke="#222" stroke-width="1.0"/>
<line x1="224.5" y1="101.9" x2="221.1" y2="101.9" stroke="#222" stroke-width="1.0"/>
<line x1="48.2" y1="100.3" x2="55.2" y2="100.3" stroke="#222" stroke-width="1.0"/>
<line x1="224.5" y1="100.3" x2="217.5" y2="100.3" stroke="#222" stroke-width="1.0"/>
<line x1="48.2" y1="95.2" x2="51.6" y2="95.2" stroke="#222" stroke-width="1.0"/>
<line x1="224.5" y1="95.2" x2="221.1" y2="95.2" stroke="#222" stroke-width="1.0"/>
<line x1="48.2" y1="90.2" x2="51.6" y2="90.2" stroke="#222" stroke-width="1.0"/>
<line x1="224.5" y1="90.2" x2="221.1" y2="90.2" stroke="#222" stroke-width="1.0"/>
<line x1="48.2" y1="87.2" x2="51.6" y2="87.2" stroke="#222" stroke-width="1.0"/>
<line x1="224.5" y1="87.2" x2="221.1" y2="87.2" stroke="#222" stroke-width="1.0"/>
<line x1="48.2" y1="85.1" x2="51.6" y2="85.1" stroke="#222" stroke-width="1.0"/>
<line x1="224.5" y1="85.1" x2="221.1" y2="85.1" stroke="#222" stroke-width="1.0"/>
<line x1="48.2" y1="83.5" x2="55.2" y2="83.5" stroke="#222" stroke-width="1.0"/>
<line x1="224.5" y1="83.5" x2="217.5" y2="83.5" stroke="#222" stroke-width="1.0"/>
<line x1="48.2" y1="78.5" x2="51.6" y2="78.5" stroke="#222" stroke-width="1.0"/>
<line x1="224.5" y1="78.5" x2="221.1" y2="78.5" stroke="#222" stroke-width="1.0"/>
<line x1="48.2" y1="73.4" x2="51.6" y2="73.4" stroke="#222" stroke-width="1.0"/>
<line x1="224.5" y1="73.4" x2="221.1" y2="73.4" stroke="#222" stroke-width="1.0"/>
<line x1="48.2" y1="70.5" x2="51.6" y2="70.5" stroke="#222" stroke-width="1.0"/>
<line x1="224.5" y1="70.5" x2="221.1" y2="70.5" stroke="#222" stroke-width="1.0"/>
<line x1="48.2" y1="68.4" x2="51.6" y2="68.4" stroke="#222" stroke-width="1.0"/>
<line x1="224.5" y1="68.4" x2="221.1" y2="68.4" stroke="#222" stroke-width="1.0"/>
<line x1="48.2" y1="66.7" x2="55.2" y2="66.7" stroke="#222" stroke-width="1.0"/>
<line x1="224.5" y1="66.7" x2="217.5" y2="66.7" stroke="#222" stroke-width="1.0"/>
<line x1="48.2" y1="61.7" x2="51.6" y2="61.7" stroke="#222" stroke-width="1.0"/>
<line x1="224.5" y1="61.7" x2="221.1" y2="61.7" stroke="#222" stroke-width="1.0"/>
<line x1="48.2" y1="56.6" x2="51.6" y2="56.6" stroke="#222" stroke-width="1.0"/>
<line x1="224.5" y1="56.6" x2="221.1" y2="56.6" stroke="#222" stroke-width="1.0"/>
<line x1="48.2" y1="53.7" x2="51.6" y2="53.7" stroke="#222" stroke-width="1.0"/>
<line x1="224.5" y1="53.7" x2="221.1" y2="53.7" stroke="#222" stroke-width="1.0"/>
<line x1="48.2" y1="51.6" x2="51.6" y2="51.6" stroke="#222" stroke-width="1.0"/>
<line x1="224.5" y1="51.6" x2="221.1" y2="51.6" stroke="#222" stroke-width="1.0"/>
<line x1="48.2" y1="50" x2="55.2" y2="50" stroke="#222" stroke-width="1.0"/>
<line x1="224.5" y1="50" x2="217.5" y2="50" stroke="#222" stroke-width="1.0"/>
<line x1="48.2" y1="44.9" x2="51.6" y2="44.9" stroke="#222" stroke-width="1.0"/>
<line x1="224.5" y1="44.9" x2="221.1" y2="44.9" stroke="#222" stroke-width="1.0"/>
<line x1="48.2" y1="39.9" x2="51.6" y2="39.9" stroke="#222" stroke-width="1.0"/>
<line x1="224.5" y1="39.9" x2="221.1" y2="39.9" stroke="#222" stroke-width="1.0"/>
<line x1="48.2" y1="36.9" x2="51.6" y2="36.9" stroke="#222" stroke-width="1.0"/>
<line x1="224.5" y1="36.9" x2="221.1" y2="36.9" stroke="#222" stroke-width="1.0"/>
<line x1="48.2" y1="34.8" x2="51.6" y2="34.8" stroke="#222" stroke-width="1.0"/>
<line x1="224.5" y1="34.8" x2="221.1" y2="34.8" stroke="#222" stroke-width="1.0"/>
<line x1="48.2" y1="33.2" x2="55.2" y2="33.2" stroke="#222" stroke-width="1.0"/>
<line x1="224.5" y1="33.2" x2="217.5" y2="33.2" stroke="#222" stroke-width="1.0"/>
<line x1="48.2" y1="28.1" x2="51.6" y2="28.1" stroke="#222" stroke-width="1.0"/>
<line x1="224.5" y1="28.1" x2="221.1" y2="28.1" stroke="#222" stroke-width="1.0"/>
<line x1="48.2" y1="23.1" x2="51.6" y2="23.1" stroke="#222" stroke-width="1.0"/>
<line x1="224.5" y1="23.1" x2="221.1" y2="23.1" stroke="#222" stroke-width="1.0"/>
<line x1="48.2" y1="20.1" x2="51.6" y2="20.1" stroke="#222" stroke-width="1.0"/>
<line x1="224.5" y1="20.1" x2="221.1" y2="20.1" stroke="#222" stroke-width="1.0"/>
<line x1="48.2" y1="18" x2="51.6" y2="18" stroke="#222" stroke-width="1.0"/>
<line x1="224.5" y1="18" x2="221.1" y2="18" stroke="#222" stroke-width="1.0"/>
<line x1="48.2" y1="258.3" x2="51.6" y2="258.3" stroke="#222" stroke-width="1.0"/>
<line x1="224.5" y1="258.3" x2="221.1" y2="258.3" stroke="#222" stroke-width="1.0"/>
<line x1="48.2" y1="256.8" x2="55.2" y2="256.8" stroke="#222" stroke-width="1.0"/>
<line x1="224.5" y1="256.8" x2="217.5" y2="256.8" stroke="#222" stroke-width="1.0"/>
<line x1="48.2" y1="252.1" x2="51.6" y2="252.1" stroke="#222" stroke-width="1.0"/>
<line x1="224.5" y1="252.1" x2="221.1" y2="252.1" stroke="#222" stroke-width="1.0"/>
<line x1="48.2" y1="247.4" x2="51.6" y2="247.4" stroke="#222" stroke-width="1.0"/>
<line x1="224.5" y1="247.4" x2="221.1" y2="247.4" stroke="#222" stroke-width="1.0"/>
<line x1="48.2" y1="244.7" x2="51.6" y2="244.7" stroke="#222" stroke-width="1.0"/>
<line x1="224.5" y1="244.7" x2="221.1" y2="244.7" stroke="#222" stroke-width="1.0"/>
<line x1="48.2" y1="242.7" x2="51.6" y2="242.7" stroke="#222" stroke-width="1.0"/>
<line x1="224.5" y1="242.7" x2="221.1" y2="242.7" stroke="#222" stroke-width="1.0"/>
<line x1="48.2" y1="241.2" x2="55.2" y2="241.2" stroke="#222" stroke-width="1.0"/>
<line x1="224.5" y1="241.2" x2="217.5" y2="241.2" stroke="#222" stroke-width="1.0"/>
<line x1="48.2" y1="236.5" x2="51.6" y2="236.5" stroke="#222" stroke-width="1.0"/>
<line x1="224.5" y1="236.5" x2="221.1" y2="236.5" stroke="#222" stroke-width="1.0"/>
<line x1="48.2" y1="231.8" x2="51.6" y2="231.8" stroke="#222" stroke-width="1.0"/>
<line x1="224.5" y1="231.8" x2="221.1" y2="231.8" stroke="#222" stroke-width="1.0"/>
<line x1="48.2" y1="229.1" x2="51.6" y2="229.1" stroke="#222" stroke-width="1.0"/>
<line x1="224.5" y1="229.1" x2="221.1" y2="229.1" stroke="#222" stroke-width="1.0"/>
<line x1="48.2" y1="227.1" x2="51.6" y2="227.1" stroke="#222" stroke-width="1.0"/>
<line x1="224.5" y1="227.1" x2="221.1" y2="227.1" stroke="#222" stroke-width="1.0"/>
<line x1="48.2" y1="225.6" x2="55.2" y2="225.6" stroke="#222" stroke-width="1.0"/>
<line x1="224.5" y1="225.6" x2="217.5" y2="225.6" stroke="#222" stroke-width="1.0"/>
<line x1="48.2" y1="220.9" x2="51.6" y2="220.9" stroke="#222" stroke-width="1.0"/>
<line x1="224.5" y1="220.9" x2="221.1" y2="220.9" stroke="#222" stroke-width="1.0"/>
<line x1="48.2" y1="216.2" x2="51.6" y2="216.2" stroke="#222" stroke-width="1.0"/>
<line x1="224.5" y1="216.2" x2="221.1" y2="216.2" stroke="#222" stroke-width="1.0"/>
<line x1="48.2" y1="213.5" x2="51.6" y2="213.5" stroke="#222" stroke-width="1.0"/>
<line x1="224.5" y1="213.5" x2="221.1" y2="213.5" stroke="#222" stroke-width="1.0"/>
<line x1="48.2" y1="211.5" x2="51.6" y2="211.5" stroke="#222" stroke-width="1.0"/>
<line x1="224.5" y1="211.5" x2="221.1" y2="211.5" stroke="#222" stroke-width="1.0"/>
<line x1="48.2" y1="210" x2="55.2" y2="210" stroke="#222" stroke-width="1.0"/>
<line x1="224.5" y1="210" x2="217.5" y2="210" stroke="#222" stroke-width="1.0"/>
<line x1="48.2" y1="205.3" x2="51.6" y2="205.3" stroke="#222" stroke-width="1.0"/>
<line x1="224.5" y1="205.3" x2="221.1" y2="205.3" stroke="#222" stroke-width="1.0"/>
<line x1="48.2" y1="200.6" x2="51.6" y2="200.6" stroke="#222" stroke-width="1.0"/>
<line x1="224.5" y1="200.6" x2="221.1" y2="200.6" stroke="#222" stroke-width="1.0"/>
<line x1="48.2" y1="197.9" x2="51.6" y2="197.9" stroke="#222" stroke-width="1.0"/>
<line x1="224.5" y1="197.9" x2="221.1" y2="197.9" stroke="#222" stroke-width="1.0"/>
<line x1="48.2" y1="195.9" x2="51.6" y2="195.9" stroke="#222" stroke-width="1.0"/>
<line x1="224.5" y1="195.9" x2="221.1" y2="195.9" stroke="#222" stroke-width="1.0"/>
<line x1="48.2" y1="194.4" x2="55.2" y2="194.4" stroke="#222" stroke-width="1.0"/>
<line x1="224.5" y1="194.4" x2="217.5" y2="194.4" stroke="#222" stroke-width="1.0"/>
<line x1="48.2" y1="189.7" x2="51.6" y2="189.7" stroke="#222" stroke-width="1.0"/>
<line x1="224.5" y1="189.7" x2="221.1" y2="189.7" stroke="#222" stroke-width="1.0"/>
<line x1="48.2" y1="185" x2="51.6" y2="185" stroke="#222" stroke-width="1.0"/>
<line x1="224.5" y1="185" x2="221.1" y2="185" stroke="#222" stroke-width="1.0"/>
<line x1="48.2" y1="182.3" x2="51.6" y2="182.3" stroke="#222" stroke-width="1.0"/>
<line x1="224.5" y1="182.3" x2="221.1" y2="182.3" stroke="#222" stroke-width="1.0"/>
<line x1="48.2" y1="180.3" x2="51.6" y2="180.3" stroke="#222" stroke-width="1.0"/>
<line x1="224.5" y1="180.3" x2="221.1" y2="180.3" stroke="#222" stroke-width="1.0"/>
<line x1="48.2" y1="178.8" x2="55.2" y2="178.8" stroke="#222" stroke-width="1.0"/>
<line x1="224.5" y1="178.8" x2="217.5" y2="178.8" stroke="#222" stroke-width="1.0"/>
<line x1="48.2" y1="174.1" x2="51.6" y2="174.1" stroke="#222" stroke-width="1.0"/>
<line x1="224.5" y1="174.1" x2="221.1" y2="174.1" stroke="#222" stroke-width="1.0"/>
<line x1="48.2" y1="169.4" x2="51.6" y2="169.4" stroke="#222" stroke-width="1.0"/>
<line x1="224.5" y1="169.4" x2="221.1" y2="169.4" stroke="#222" stroke-width="1.0"/>
<line x1="48.2" y1="166.7" x2="51.6" y2="166.7" stroke="#222" stroke-width="1.0"/>
<line x1="224.5" y1="166.7" x2="221.1" y2="166.7" stroke="#222" stroke-width="1.0"/>
<line x1="48.2" y1="164.7" x2="51.6" y2="164.7" stroke="#222" stroke-width="1.0"/>
<line x1="224.5" y1="164.7" x2="221.1" y2="164.7" stroke="#222" stroke-width="1.0"/>
<line x1="48.2" y1="163.2" x2="55.2" y2="163.2" stroke="#222" stroke-width="1.0"/>
<line x1="224.5" y1="163.2" x2="217.5" y2="163.2" stroke="#222" stroke-width="1.0"/>
<line x1="48.2" y1="158.5" x2="51.6" y2="158.5" stroke="#222" stroke-width="1.0"/>
<line x1="224.5" y1="158.5" x2="221.1" y2="158.5" stroke="#222" stroke-width="1.0"/>
<line x1="48.2" y1="153.8" x2="51.6" y2="153.8" stroke="#222" stroke-width="1.0"/>
<line x1="224.5" y1="153.8" x2="221.1" y2="153.8" stroke="#222" stroke-width="1.0"/>
<line x1="48.2" y1="151.1" x2="51.6" y2="151.1" stroke="#222" stroke-width="1.0"/>
<line x1="224.5" y1="151.1" x2="221.1" y2="151.1" stroke="#222" stroke-width="1.0"/>
<line x1="48.2" y1="149.1" x2="51.6" y2="149.1" stroke="#222" stroke-width="1.0"/>
<line x1="224.5" y1="149.1" x2="221.1" y2="149.1" stroke="#222" stroke-width="1.0"/>
<line x1="48.2" y1="147.6" x2="55.2" y2="147.6" stroke="#222" stroke-width="1.0"/>
<line x1="224.5" y1="147.6" x2="217.5" y2="147.6" stroke="#222" stroke-width="1.0"/>
<line x1="48.2" y1="142.9" x2="51.6" y2="142.9" stroke="#222" stroke-width="1.0"/>
<line x1="224.5" y1="142.9" x2="221.1" y2="142.9" stroke="#222" stroke-width="1.0"/>
<line x1="48.2" y1="138.2" x2="51.6" y2="138.2" stroke="#222" stroke-width="1.0"/>
<line x1="224.5" y1="138.2" x2="221.1" y2="138.2" stroke="#222" stroke-width="1.0"/>
<rect x="276.7" y="17.6" width="177.3" height="237.7" fill="none" stroke="#222" stroke-width="1.45"/>
<line x1="276.7" y1="135.9" x2="454" y2="135.9" stroke="#222" stroke-width="1.4"/>
<line x1="281.9" y1="135.9" x2="281.9" y2="128.9" stroke="#222" stroke-width="1.0"/>
<line x1="281.9" y1="17.6" x2="281.9" y2="24.6" stroke="#222" stroke-width="1.0"/>
<line x1="292" y1="135.9" x2="292" y2="132.5" stroke="#222" stroke-width="1.0"/>
<line x1="292" y1="17.6" x2="292" y2="21" stroke="#222" stroke-width="1.0"/>
<line x1="302.1" y1="135.9" x2="302.1" y2="132.5" stroke="#222" stroke-width="1.0"/>
<line x1="302.1" y1="17.6" x2="302.1" y2="21" stroke="#222" stroke-width="1.0"/>
<line x1="312.2" y1="135.9" x2="312.2" y2="132.5" stroke="#222" stroke-width="1.0"/>
<line x1="312.2" y1="17.6" x2="312.2" y2="21" stroke="#222" stroke-width="1.0"/>
<line x1="322.4" y1="135.9" x2="322.4" y2="128.9" stroke="#222" stroke-width="1.0"/>
<line x1="322.4" y1="17.6" x2="322.4" y2="24.6" stroke="#222" stroke-width="1.0"/>
<line x1="332.5" y1="135.9" x2="332.5" y2="132.5" stroke="#222" stroke-width="1.0"/>
<line x1="332.5" y1="17.6" x2="332.5" y2="21" stroke="#222" stroke-width="1.0"/>
<line x1="342.6" y1="135.9" x2="342.6" y2="132.5" stroke="#222" stroke-width="1.0"/>
<line x1="342.6" y1="17.6" x2="342.6" y2="21" stroke="#222" stroke-width="1.0"/>
<line x1="352.8" y1="135.9" x2="352.8" y2="132.5" stroke="#222" stroke-width="1.0"/>
<line x1="352.8" y1="17.6" x2="352.8" y2="21" stroke="#222" stroke-width="1.0"/>
<line x1="362.9" y1="135.9" x2="362.9" y2="128.9" stroke="#222" stroke-width="1.0"/>
<line x1="362.9" y1="17.6" x2="362.9" y2="24.6" stroke="#222" stroke-width="1.0"/>
<line x1="373" y1="135.9" x2="373" y2="132.5" stroke="#222" stroke-width="1.0"/>
<line x1="373" y1="17.6" x2="373" y2="21" stroke="#222" stroke-width="1.0"/>
<line x1="383.2" y1="135.9" x2="383.2" y2="132.5" stroke="#222" stroke-width="1.0"/>
<line x1="383.2" y1="17.6" x2="383.2" y2="21" stroke="#222" stroke-width="1.0"/>
<line x1="393.3" y1="135.9" x2="393.3" y2="132.5" stroke="#222" stroke-width="1.0"/>
<line x1="393.3" y1="17.6" x2="393.3" y2="21" stroke="#222" stroke-width="1.0"/>
<line x1="403.4" y1="135.9" x2="403.4" y2="128.9" stroke="#222" stroke-width="1.0"/>
<line x1="403.4" y1="17.6" x2="403.4" y2="24.6" stroke="#222" stroke-width="1.0"/>
<line x1="413.5" y1="135.9" x2="413.5" y2="132.5" stroke="#222" stroke-width="1.0"/>
<line x1="413.5" y1="17.6" x2="413.5" y2="21" stroke="#222" stroke-width="1.0"/>
<line x1="423.7" y1="135.9" x2="423.7" y2="132.5" stroke="#222" stroke-width="1.0"/>
<line x1="423.7" y1="17.6" x2="423.7" y2="21" stroke="#222" stroke-width="1.0"/>
<line x1="433.8" y1="135.9" x2="433.8" y2="132.5" stroke="#222" stroke-width="1.0"/>
<line x1="433.8" y1="17.6" x2="433.8" y2="21" stroke="#222" stroke-width="1.0"/>
<line x1="443.9" y1="135.9" x2="443.9" y2="128.9" stroke="#222" stroke-width="1.0"/>
<line x1="443.9" y1="17.6" x2="443.9" y2="24.6" stroke="#222" stroke-width="1.0"/>
<line x1="281.9" y1="255.3" x2="281.9" y2="248.3" stroke="#222" stroke-width="1.0"/>
<line x1="281.9" y1="135.9" x2="281.9" y2="142.9" stroke="#222" stroke-width="1.0"/>
<line x1="292" y1="255.3" x2="292" y2="251.9" stroke="#222" stroke-width="1.0"/>
<line x1="292" y1="135.9" x2="292" y2="139.3" stroke="#222" stroke-width="1.0"/>
<line x1="302.1" y1="255.3" x2="302.1" y2="251.9" stroke="#222" stroke-width="1.0"/>
<line x1="302.1" y1="135.9" x2="302.1" y2="139.3" stroke="#222" stroke-width="1.0"/>
<line x1="312.2" y1="255.3" x2="312.2" y2="251.9" stroke="#222" stroke-width="1.0"/>
<line x1="312.2" y1="135.9" x2="312.2" y2="139.3" stroke="#222" stroke-width="1.0"/>
<line x1="322.4" y1="255.3" x2="322.4" y2="248.3" stroke="#222" stroke-width="1.0"/>
<line x1="322.4" y1="135.9" x2="322.4" y2="142.9" stroke="#222" stroke-width="1.0"/>
<line x1="332.5" y1="255.3" x2="332.5" y2="251.9" stroke="#222" stroke-width="1.0"/>
<line x1="332.5" y1="135.9" x2="332.5" y2="139.3" stroke="#222" stroke-width="1.0"/>
<line x1="342.6" y1="255.3" x2="342.6" y2="251.9" stroke="#222" stroke-width="1.0"/>
<line x1="342.6" y1="135.9" x2="342.6" y2="139.3" stroke="#222" stroke-width="1.0"/>
<line x1="352.8" y1="255.3" x2="352.8" y2="251.9" stroke="#222" stroke-width="1.0"/>
<line x1="352.8" y1="135.9" x2="352.8" y2="139.3" stroke="#222" stroke-width="1.0"/>
<line x1="362.9" y1="255.3" x2="362.9" y2="248.3" stroke="#222" stroke-width="1.0"/>
<line x1="362.9" y1="135.9" x2="362.9" y2="142.9" stroke="#222" stroke-width="1.0"/>
<line x1="373" y1="255.3" x2="373" y2="251.9" stroke="#222" stroke-width="1.0"/>
<line x1="373" y1="135.9" x2="373" y2="139.3" stroke="#222" stroke-width="1.0"/>
<line x1="383.2" y1="255.3" x2="383.2" y2="251.9" stroke="#222" stroke-width="1.0"/>
<line x1="383.2" y1="135.9" x2="383.2" y2="139.3" stroke="#222" stroke-width="1.0"/>
<line x1="393.3" y1="255.3" x2="393.3" y2="251.9" stroke="#222" stroke-width="1.0"/>
<line x1="393.3" y1="135.9" x2="393.3" y2="139.3" stroke="#222" stroke-width="1.0"/>
<line x1="403.4" y1="255.3" x2="403.4" y2="248.3" stroke="#222" stroke-width="1.0"/>
<line x1="403.4" y1="135.9" x2="403.4" y2="142.9" stroke="#222" stroke-width="1.0"/>
<line x1="413.5" y1="255.3" x2="413.5" y2="251.9" stroke="#222" stroke-width="1.0"/>
<line x1="413.5" y1="135.9" x2="413.5" y2="139.3" stroke="#222" stroke-width="1.0"/>
<line x1="423.7" y1="255.3" x2="423.7" y2="251.9" stroke="#222" stroke-width="1.0"/>
<line x1="423.7" y1="135.9" x2="423.7" y2="139.3" stroke="#222" stroke-width="1.0"/>
<line x1="433.8" y1="255.3" x2="433.8" y2="251.9" stroke="#222" stroke-width="1.0"/>
<line x1="433.8" y1="135.9" x2="433.8" y2="139.3" stroke="#222" stroke-width="1.0"/>
<line x1="443.9" y1="255.3" x2="443.9" y2="248.3" stroke="#222" stroke-width="1.0"/>
<line x1="443.9" y1="135.9" x2="443.9" y2="142.9" stroke="#222" stroke-width="1.0"/>
<line x1="276.7" y1="133.1" x2="280.1" y2="133.1" stroke="#222" stroke-width="1.0"/>
<line x1="454" y1="133.1" x2="450.6" y2="133.1" stroke="#222" stroke-width="1.0"/>
<line x1="276.7" y1="127.9" x2="280.1" y2="127.9" stroke="#222" stroke-width="1.0"/>
<line x1="454" y1="127.9" x2="450.6" y2="127.9" stroke="#222" stroke-width="1.0"/>
<line x1="276.7" y1="124.8" x2="280.1" y2="124.8" stroke="#222" stroke-width="1.0"/>
<line x1="454" y1="124.8" x2="450.6" y2="124.8" stroke="#222" stroke-width="1.0"/>
<line x1="276.7" y1="122.7" x2="280.1" y2="122.7" stroke="#222" stroke-width="1.0"/>
<line x1="454" y1="122.7" x2="450.6" y2="122.7" stroke="#222" stroke-width="1.0"/>
<line x1="276.7" y1="121" x2="283.7" y2="121" stroke="#222" stroke-width="1.0"/>
<line x1="454" y1="121" x2="447" y2="121" stroke="#222" stroke-width="1.0"/>
<line x1="276.7" y1="115.7" x2="280.1" y2="115.7" stroke="#222" stroke-width="1.0"/>
<line x1="454" y1="115.7" x2="450.6" y2="115.7" stroke="#222" stroke-width="1.0"/>
<line x1="276.7" y1="110.5" x2="280.1" y2="110.5" stroke="#222" stroke-width="1.0"/>
<line x1="454" y1="110.5" x2="450.6" y2="110.5" stroke="#222" stroke-width="1.0"/>
<line x1="276.7" y1="107.5" x2="280.1" y2="107.5" stroke="#222" stroke-width="1.0"/>
<line x1="454" y1="107.5" x2="450.6" y2="107.5" stroke="#222" stroke-width="1.0"/>
<line x1="276.7" y1="105.3" x2="280.1" y2="105.3" stroke="#222" stroke-width="1.0"/>
<line x1="454" y1="105.3" x2="450.6" y2="105.3" stroke="#222" stroke-width="1.0"/>
<line x1="276.7" y1="103.6" x2="283.7" y2="103.6" stroke="#222" stroke-width="1.0"/>
<line x1="454" y1="103.6" x2="447" y2="103.6" stroke="#222" stroke-width="1.0"/>
<line x1="276.7" y1="98.4" x2="280.1" y2="98.4" stroke="#222" stroke-width="1.0"/>
<line x1="454" y1="98.4" x2="450.6" y2="98.4" stroke="#222" stroke-width="1.0"/>
<line x1="276.7" y1="93.1" x2="280.1" y2="93.1" stroke="#222" stroke-width="1.0"/>
<line x1="454" y1="93.1" x2="450.6" y2="93.1" stroke="#222" stroke-width="1.0"/>
<line x1="276.7" y1="90.1" x2="280.1" y2="90.1" stroke="#222" stroke-width="1.0"/>
<line x1="454" y1="90.1" x2="450.6" y2="90.1" stroke="#222" stroke-width="1.0"/>
<line x1="276.7" y1="87.9" x2="280.1" y2="87.9" stroke="#222" stroke-width="1.0"/>
<line x1="454" y1="87.9" x2="450.6" y2="87.9" stroke="#222" stroke-width="1.0"/>
<line x1="276.7" y1="86.2" x2="283.7" y2="86.2" stroke="#222" stroke-width="1.0"/>
<line x1="454" y1="86.2" x2="447" y2="86.2" stroke="#222" stroke-width="1.0"/>
<line x1="276.7" y1="81" x2="280.1" y2="81" stroke="#222" stroke-width="1.0"/>
<line x1="454" y1="81" x2="450.6" y2="81" stroke="#222" stroke-width="1.0"/>
<line x1="276.7" y1="75.8" x2="280.1" y2="75.8" stroke="#222" stroke-width="1.0"/>
<line x1="454" y1="75.8" x2="450.6" y2="75.8" stroke="#222" stroke-width="1.0"/>
<line x1="276.7" y1="72.7" x2="280.1" y2="72.7" stroke="#222" stroke-width="1.0"/>
<line x1="454" y1="72.7" x2="450.6" y2="72.7" stroke="#222" stroke-width="1.0"/>
<line x1="276.7" y1="70.5" x2="280.1" y2="70.5" stroke="#222" stroke-width="1.0"/>
<line x1="454" y1="70.5" x2="450.6" y2="70.5" stroke="#222" stroke-width="1.0"/>
<line x1="276.7" y1="68.8" x2="283.7" y2="68.8" stroke="#222" stroke-width="1.0"/>
<line x1="454" y1="68.8" x2="447" y2="68.8" stroke="#222" stroke-width="1.0"/>
<line x1="276.7" y1="63.6" x2="280.1" y2="63.6" stroke="#222" stroke-width="1.0"/>
<line x1="454" y1="63.6" x2="450.6" y2="63.6" stroke="#222" stroke-width="1.0"/>
<line x1="276.7" y1="58.4" x2="280.1" y2="58.4" stroke="#222" stroke-width="1.0"/>
<line x1="454" y1="58.4" x2="450.6" y2="58.4" stroke="#222" stroke-width="1.0"/>
<line x1="276.7" y1="55.3" x2="280.1" y2="55.3" stroke="#222" stroke-width="1.0"/>
<line x1="454" y1="55.3" x2="450.6" y2="55.3" stroke="#222" stroke-width="1.0"/>
<line x1="276.7" y1="53.2" x2="280.1" y2="53.2" stroke="#222" stroke-width="1.0"/>
<line x1="454" y1="53.2" x2="450.6" y2="53.2" stroke="#222" stroke-width="1.0"/>
<line x1="276.7" y1="51.5" x2="283.7" y2="51.5" stroke="#222" stroke-width="1.0"/>
<line x1="454" y1="51.5" x2="447" y2="51.5" stroke="#222" stroke-width="1.0"/>
<line x1="276.7" y1="46.2" x2="280.1" y2="46.2" stroke="#222" stroke-width="1.0"/>
<line x1="454" y1="46.2" x2="450.6" y2="46.2" stroke="#222" stroke-width="1.0"/>
<line x1="276.7" y1="41" x2="280.1" y2="41" stroke="#222" stroke-width="1.0"/>
<line x1="454" y1="41" x2="450.6" y2="41" stroke="#222" stroke-width="1.0"/>
<line x1="276.7" y1="38" x2="280.1" y2="38" stroke="#222" stroke-width="1.0"/>
<line x1="454" y1="38" x2="450.6" y2="38" stroke="#222" stroke-width="1.0"/>
<line x1="276.7" y1="35.8" x2="280.1" y2="35.8" stroke="#222" stroke-width="1.0"/>
<line x1="454" y1="35.8" x2="450.6" y2="35.8" stroke="#222" stroke-width="1.0"/>
<line x1="276.7" y1="34.1" x2="283.7" y2="34.1" stroke="#222" stroke-width="1.0"/>
<line x1="454" y1="34.1" x2="447" y2="34.1" stroke="#222" stroke-width="1.0"/>
<line x1="276.7" y1="28.9" x2="280.1" y2="28.9" stroke="#222" stroke-width="1.0"/>
<line x1="454" y1="28.9" x2="450.6" y2="28.9" stroke="#222" stroke-width="1.0"/>
<line x1="276.7" y1="23.6" x2="280.1" y2="23.6" stroke="#222" stroke-width="1.0"/>
<line x1="454" y1="23.6" x2="450.6" y2="23.6" stroke="#222" stroke-width="1.0"/>
<line x1="276.7" y1="20.6" x2="280.1" y2="20.6" stroke="#222" stroke-width="1.0"/>
<line x1="454" y1="20.6" x2="450.6" y2="20.6" stroke="#222" stroke-width="1.0"/>
<line x1="276.7" y1="18.4" x2="280.1" y2="18.4" stroke="#222" stroke-width="1.0"/>
<line x1="454" y1="18.4" x2="450.6" y2="18.4" stroke="#222" stroke-width="1.0"/>
<line x1="276.7" y1="254.1" x2="280.1" y2="254.1" stroke="#222" stroke-width="1.0"/>
<line x1="454" y1="254.1" x2="450.6" y2="254.1" stroke="#222" stroke-width="1.0"/>
<line x1="276.7" y1="252" x2="280.1" y2="252" stroke="#222" stroke-width="1.0"/>
<line x1="454" y1="252" x2="450.6" y2="252" stroke="#222" stroke-width="1.0"/>
<line x1="276.7" y1="250.3" x2="283.7" y2="250.3" stroke="#222" stroke-width="1.0"/>
<line x1="454" y1="250.3" x2="447" y2="250.3" stroke="#222" stroke-width="1.0"/>
<line x1="276.7" y1="245.2" x2="280.1" y2="245.2" stroke="#222" stroke-width="1.0"/>
<line x1="454" y1="245.2" x2="450.6" y2="245.2" stroke="#222" stroke-width="1.0"/>
<line x1="276.7" y1="240" x2="280.1" y2="240" stroke="#222" stroke-width="1.0"/>
<line x1="454" y1="240" x2="450.6" y2="240" stroke="#222" stroke-width="1.0"/>
<line x1="276.7" y1="237" x2="280.1" y2="237" stroke="#222" stroke-width="1.0"/>
<line x1="454" y1="237" x2="450.6" y2="237" stroke="#222" stroke-width="1.0"/>
<line x1="276.7" y1="234.9" x2="280.1" y2="234.9" stroke="#222" stroke-width="1.0"/>
<line x1="454" y1="234.9" x2="450.6" y2="234.9" stroke="#222" stroke-width="1.0"/>
<line x1="276.7" y1="233.2" x2="283.7" y2="233.2" stroke="#222" stroke-width="1.0"/>
<line x1="454" y1="233.2" x2="447" y2="233.2" stroke="#222" stroke-width="1.0"/>
<line x1="276.7" y1="228.1" x2="280.1" y2="228.1" stroke="#222" stroke-width="1.0"/>
<line x1="454" y1="228.1" x2="450.6" y2="228.1" stroke="#222" stroke-width="1.0"/>
<line x1="276.7" y1="222.9" x2="280.1" y2="222.9" stroke="#222" stroke-width="1.0"/>
<line x1="454" y1="222.9" x2="450.6" y2="222.9" stroke="#222" stroke-width="1.0"/>
<line x1="276.7" y1="219.9" x2="280.1" y2="219.9" stroke="#222" stroke-width="1.0"/>
<line x1="454" y1="219.9" x2="450.6" y2="219.9" stroke="#222" stroke-width="1.0"/>
<line x1="276.7" y1="217.8" x2="280.1" y2="217.8" stroke="#222" stroke-width="1.0"/>
<line x1="454" y1="217.8" x2="450.6" y2="217.8" stroke="#222" stroke-width="1.0"/>
<line x1="276.7" y1="216.1" x2="283.7" y2="216.1" stroke="#222" stroke-width="1.0"/>
<line x1="454" y1="216.1" x2="447" y2="216.1" stroke="#222" stroke-width="1.0"/>
<line x1="276.7" y1="211" x2="280.1" y2="211" stroke="#222" stroke-width="1.0"/>
<line x1="454" y1="211" x2="450.6" y2="211" stroke="#222" stroke-width="1.0"/>
<line x1="276.7" y1="205.8" x2="280.1" y2="205.8" stroke="#222" stroke-width="1.0"/>
<line x1="454" y1="205.8" x2="450.6" y2="205.8" stroke="#222" stroke-width="1.0"/>
<line x1="276.7" y1="202.8" x2="280.1" y2="202.8" stroke="#222" stroke-width="1.0"/>
<line x1="454" y1="202.8" x2="450.6" y2="202.8" stroke="#222" stroke-width="1.0"/>
<line x1="276.7" y1="200.7" x2="280.1" y2="200.7" stroke="#222" stroke-width="1.0"/>
<line x1="454" y1="200.7" x2="450.6" y2="200.7" stroke="#222" stroke-width="1.0"/>
<line x1="276.7" y1="199" x2="283.7" y2="199" stroke="#222" stroke-width="1.0"/>
<line x1="454" y1="199" x2="447" y2="199" stroke="#222" stroke-width="1.0"/>
<line x1="276.7" y1="193.9" x2="280.1" y2="193.9" stroke="#222" stroke-width="1.0"/>
<line x1="454" y1="193.9" x2="450.6" y2="193.9" stroke="#222" stroke-width="1.0"/>
<line x1="276.7" y1="188.7" x2="280.1" y2="188.7" stroke="#222" stroke-width="1.0"/>
<line x1="454" y1="188.7" x2="450.6" y2="188.7" stroke="#222" stroke-width="1.0"/>
<line x1="276.7" y1="185.7" x2="280.1" y2="185.7" stroke="#222" stroke-width="1.0"/>
<line x1="454" y1="185.7" x2="450.6" y2="185.7" stroke="#222" stroke-width="1.0"/>
<line x1="276.7" y1="183.6" x2="280.1" y2="183.6" stroke="#222" stroke-width="1.0"/>
<line x1="454" y1="183.6" x2="450.6" y2="183.6" stroke="#222" stroke-width="1.0"/>
<line x1="276.7" y1="181.9" x2="283.7" y2="181.9" stroke="#222" stroke-width="1.0"/>
<line x1="454" y1="181.9" x2="447" y2="181.9" stroke="#222" stroke-width="1.0"/>
<line x1="276.7" y1="176.8" x2="280.1" y2="176.8" stroke="#222" stroke-width="1.0"/>
<line x1="454" y1="176.8" x2="450.6" y2="176.8" stroke="#222" stroke-width="1.0"/>
<line x1="276.7" y1="171.6" x2="280.1" y2="171.6" stroke="#222" stroke-width="1.0"/>
<line x1="454" y1="171.6" x2="450.6" y2="171.6" stroke="#222" stroke-width="1.0"/>
<line x1="276.7" y1="168.6" x2="280.1" y2="168.6" stroke="#222" stroke-width="1.0"/>
<line x1="454" y1="168.6" x2="450.6" y2="168.6" stroke="#222" stroke-width="1.0"/>
<line x1="276.7" y1="166.5" x2="280.1" y2="166.5" stroke="#222" stroke-width="1.0"/>
<line x1="454" y1="166.5" x2="450.6" y2="166.5" stroke="#222" stroke-width="1.0"/>
<line x1="276.7" y1="164.8" x2="283.7" y2="164.8" stroke="#222" stroke-width="1.0"/>
<line x1="454" y1="164.8" x2="447" y2="164.8" stroke="#222" stroke-width="1.0"/>
<line x1="276.7" y1="159.7" x2="280.1" y2="159.7" stroke="#222" stroke-width="1.0"/>
<line x1="454" y1="159.7" x2="450.6" y2="159.7" stroke="#222" stroke-width="1.0"/>
<line x1="276.7" y1="154.5" x2="280.1" y2="154.5" stroke="#222" stroke-width="1.0"/>
<line x1="454" y1="154.5" x2="450.6" y2="154.5" stroke="#222" stroke-width="1.0"/>
<line x1="276.7" y1="151.5" x2="280.1" y2="151.5" stroke="#222" stroke-width="1.0"/>
<line x1="454" y1="151.5" x2="450.6" y2="151.5" stroke="#222" stroke-width="1.0"/>
<line x1="276.7" y1="149.4" x2="280.1" y2="149.4" stroke="#222" stroke-width="1.0"/>
<line x1="454" y1="149.4" x2="450.6" y2="149.4" stroke="#222" stroke-width="1.0"/>
<line x1="276.7" y1="147.7" x2="283.7" y2="147.7" stroke="#222" stroke-width="1.0"/>
<line x1="454" y1="147.7" x2="447" y2="147.7" stroke="#222" stroke-width="1.0"/>
<line x1="276.7" y1="142.6" x2="280.1" y2="142.6" stroke="#222" stroke-width="1.0"/>
<line x1="454" y1="142.6" x2="450.6" y2="142.6" stroke="#222" stroke-width="1.0"/>
<line x1="276.7" y1="137.4" x2="280.1" y2="137.4" stroke="#222" stroke-width="1.0"/>
<line x1="454" y1="137.4" x2="450.6" y2="137.4" stroke="#222" stroke-width="1.0"/>
<rect x="502.5" y="18.8" width="181.1" height="235.7" fill="none" stroke="#222" stroke-width="1.45"/>
<line x1="502.5" y1="135.5" x2="683.6" y2="135.5" stroke="#222" stroke-width="1.4"/>
<line x1="512.2" y1="135.5" x2="512.2" y2="128.5" stroke="#222" stroke-width="1.0"/>
<line x1="512.2" y1="18.8" x2="512.2" y2="25.8" stroke="#222" stroke-width="1.0"/>
<line x1="522.4" y1="135.5" x2="522.4" y2="132.1" stroke="#222" stroke-width="1.0"/>
<line x1="522.4" y1="18.8" x2="522.4" y2="22.2" stroke="#222" stroke-width="1.0"/>
<line x1="532.5" y1="135.5" x2="532.5" y2="132.1" stroke="#222" stroke-width="1.0"/>
<line x1="532.5" y1="18.8" x2="532.5" y2="22.2" stroke="#222" stroke-width="1.0"/>
<line x1="542.7" y1="135.5" x2="542.7" y2="132.1" stroke="#222" stroke-width="1.0"/>
<line x1="542.7" y1="18.8" x2="542.7" y2="22.2" stroke="#222" stroke-width="1.0"/>
<line x1="552.9" y1="135.5" x2="552.9" y2="128.5" stroke="#222" stroke-width="1.0"/>
<line x1="552.9" y1="18.8" x2="552.9" y2="25.8" stroke="#222" stroke-width="1.0"/>
<line x1="563" y1="135.5" x2="563" y2="132.1" stroke="#222" stroke-width="1.0"/>
<line x1="563" y1="18.8" x2="563" y2="22.2" stroke="#222" stroke-width="1.0"/>
<line x1="573.2" y1="135.5" x2="573.2" y2="132.1" stroke="#222" stroke-width="1.0"/>
<line x1="573.2" y1="18.8" x2="573.2" y2="22.2" stroke="#222" stroke-width="1.0"/>
<line x1="583.3" y1="135.5" x2="583.3" y2="132.1" stroke="#222" stroke-width="1.0"/>
<line x1="583.3" y1="18.8" x2="583.3" y2="22.2" stroke="#222" stroke-width="1.0"/>
<line x1="593.5" y1="135.5" x2="593.5" y2="128.5" stroke="#222" stroke-width="1.0"/>
<line x1="593.5" y1="18.8" x2="593.5" y2="25.8" stroke="#222" stroke-width="1.0"/>
<line x1="603.7" y1="135.5" x2="603.7" y2="132.1" stroke="#222" stroke-width="1.0"/>
<line x1="603.7" y1="18.8" x2="603.7" y2="22.2" stroke="#222" stroke-width="1.0"/>
<line x1="613.8" y1="135.5" x2="613.8" y2="132.1" stroke="#222" stroke-width="1.0"/>
<line x1="613.8" y1="18.8" x2="613.8" y2="22.2" stroke="#222" stroke-width="1.0"/>
<line x1="624" y1="135.5" x2="624" y2="132.1" stroke="#222" stroke-width="1.0"/>
<line x1="624" y1="18.8" x2="624" y2="22.2" stroke="#222" stroke-width="1.0"/>
<line x1="634.1" y1="135.5" x2="634.1" y2="128.5" stroke="#222" stroke-width="1.0"/>
<line x1="634.1" y1="18.8" x2="634.1" y2="25.8" stroke="#222" stroke-width="1.0"/>
<line x1="644.3" y1="135.5" x2="644.3" y2="132.1" stroke="#222" stroke-width="1.0"/>
<line x1="644.3" y1="18.8" x2="644.3" y2="22.2" stroke="#222" stroke-width="1.0"/>
<line x1="654.5" y1="135.5" x2="654.5" y2="132.1" stroke="#222" stroke-width="1.0"/>
<line x1="654.5" y1="18.8" x2="654.5" y2="22.2" stroke="#222" stroke-width="1.0"/>
<line x1="664.6" y1="135.5" x2="664.6" y2="132.1" stroke="#222" stroke-width="1.0"/>
<line x1="664.6" y1="18.8" x2="664.6" y2="22.2" stroke="#222" stroke-width="1.0"/>
<line x1="674.8" y1="135.5" x2="674.8" y2="128.5" stroke="#222" stroke-width="1.0"/>
<line x1="674.8" y1="18.8" x2="674.8" y2="25.8" stroke="#222" stroke-width="1.0"/>
<line x1="512.2" y1="254.5" x2="512.2" y2="247.5" stroke="#222" stroke-width="1.0"/>
<line x1="512.2" y1="135.5" x2="512.2" y2="142.5" stroke="#222" stroke-width="1.0"/>
<line x1="522.4" y1="254.5" x2="522.4" y2="251.1" stroke="#222" stroke-width="1.0"/>
<line x1="522.4" y1="135.5" x2="522.4" y2="138.9" stroke="#222" stroke-width="1.0"/>
<line x1="532.5" y1="254.5" x2="532.5" y2="251.1" stroke="#222" stroke-width="1.0"/>
<line x1="532.5" y1="135.5" x2="532.5" y2="138.9" stroke="#222" stroke-width="1.0"/>
<line x1="542.7" y1="254.5" x2="542.7" y2="251.1" stroke="#222" stroke-width="1.0"/>
<line x1="542.7" y1="135.5" x2="542.7" y2="138.9" stroke="#222" stroke-width="1.0"/>
<line x1="552.9" y1="254.5" x2="552.9" y2="247.5" stroke="#222" stroke-width="1.0"/>
<line x1="552.9" y1="135.5" x2="552.9" y2="142.5" stroke="#222" stroke-width="1.0"/>
<line x1="563" y1="254.5" x2="563" y2="251.1" stroke="#222" stroke-width="1.0"/>
<line x1="563" y1="135.5" x2="563" y2="138.9" stroke="#222" stroke-width="1.0"/>
<line x1="573.2" y1="254.5" x2="573.2" y2="251.1" stroke="#222" stroke-width="1.0"/>
<line x1="573.2" y1="135.5" x2="573.2" y2="138.9" stroke="#222" stroke-width="1.0"/>
<line x1="583.3" y1="254.5" x2="583.3" y2="251.1" stroke="#222" stroke-width="1.0"/>
<line x1="583.3" y1="135.5" x2="583.3" y2="138.9" stroke="#222" stroke-width="1.0"/>
<line x1="593.5" y1="254.5" x2="593.5" y2="247.5" stroke="#222" stroke-width="1.0"/>
<line x1="593.5" y1="135.5" x2="593.5" y2="142.5" stroke="#222" stroke-width="1.0"/>
<line x1="603.7" y1="254.5" x2="603.7" y2="251.1" stroke="#222" stroke-width="1.0"/>
<line x1="603.7" y1="135.5" x2="603.7" y2="138.9" stroke="#222" stroke-width="1.0"/>
<line x1="613.8" y1="254.5" x2="613.8" y2="251.1" stroke="#222" stroke-width="1.0"/>
<line x1="613.8" y1="135.5" x2="613.8" y2="138.9" stroke="#222" stroke-width="1.0"/>
<line x1="624" y1="254.5" x2="624" y2="251.1" stroke="#222" stroke-width="1.0"/>
<line x1="624" y1="135.5" x2="624" y2="138.9" stroke="#222" stroke-width="1.0"/>
<line x1="634.1" y1="254.5" x2="634.1" y2="247.5" stroke="#222" stroke-width="1.0"/>
<line x1="634.1" y1="135.5" x2="634.1" y2="142.5" stroke="#222" stroke-width="1.0"/>
<line x1="644.3" y1="254.5" x2="644.3" y2="251.1" stroke="#222" stroke-width="1.0"/>
<line x1="644.3" y1="135.5" x2="644.3" y2="138.9" stroke="#222" stroke-width="1.0"/>
<line x1="654.5" y1="254.5" x2="654.5" y2="251.1" stroke="#222" stroke-width="1.0"/>
<line x1="654.5" y1="135.5" x2="654.5" y2="138.9" stroke="#222" stroke-width="1.0"/>
<line x1="664.6" y1="254.5" x2="664.6" y2="251.1" stroke="#222" stroke-width="1.0"/>
<line x1="664.6" y1="135.5" x2="664.6" y2="138.9" stroke="#222" stroke-width="1.0"/>
<line x1="674.8" y1="254.5" x2="674.8" y2="247.5" stroke="#222" stroke-width="1.0"/>
<line x1="674.8" y1="135.5" x2="674.8" y2="142.5" stroke="#222" stroke-width="1.0"/>
<line x1="502.5" y1="134.9" x2="505.9" y2="134.9" stroke="#222" stroke-width="1.0"/>
<line x1="683.6" y1="134.9" x2="680.2" y2="134.9" stroke="#222" stroke-width="1.0"/>
<line x1="502.5" y1="128.1" x2="509.5" y2="128.1" stroke="#222" stroke-width="1.0"/>
<line x1="683.6" y1="128.1" x2="676.6" y2="128.1" stroke="#222" stroke-width="1.0"/>
<line x1="502.5" y1="121.3" x2="505.9" y2="121.3" stroke="#222" stroke-width="1.0"/>
<line x1="683.6" y1="121.3" x2="680.2" y2="121.3" stroke="#222" stroke-width="1.0"/>
<line x1="502.5" y1="114.5" x2="505.9" y2="114.5" stroke="#222" stroke-width="1.0"/>
<line x1="683.6" y1="114.5" x2="680.2" y2="114.5" stroke="#222" stroke-width="1.0"/>
<line x1="502.5" y1="107.6" x2="505.9" y2="107.6" stroke="#222" stroke-width="1.0"/>
<line x1="683.6" y1="107.6" x2="680.2" y2="107.6" stroke="#222" stroke-width="1.0"/>
<line x1="502.5" y1="100.8" x2="505.9" y2="100.8" stroke="#222" stroke-width="1.0"/>
<line x1="683.6" y1="100.8" x2="680.2" y2="100.8" stroke="#222" stroke-width="1.0"/>
<line x1="502.5" y1="94" x2="509.5" y2="94" stroke="#222" stroke-width="1.0"/>
<line x1="683.6" y1="94" x2="676.6" y2="94" stroke="#222" stroke-width="1.0"/>
<line x1="502.5" y1="87.2" x2="505.9" y2="87.2" stroke="#222" stroke-width="1.0"/>
<line x1="683.6" y1="87.2" x2="680.2" y2="87.2" stroke="#222" stroke-width="1.0"/>
<line x1="502.5" y1="80.4" x2="505.9" y2="80.4" stroke="#222" stroke-width="1.0"/>
<line x1="683.6" y1="80.4" x2="680.2" y2="80.4" stroke="#222" stroke-width="1.0"/>
<line x1="502.5" y1="73.5" x2="505.9" y2="73.5" stroke="#222" stroke-width="1.0"/>
<line x1="683.6" y1="73.5" x2="680.2" y2="73.5" stroke="#222" stroke-width="1.0"/>
<line x1="502.5" y1="66.7" x2="505.9" y2="66.7" stroke="#222" stroke-width="1.0"/>
<line x1="683.6" y1="66.7" x2="680.2" y2="66.7" stroke="#222" stroke-width="1.0"/>
<line x1="502.5" y1="59.9" x2="509.5" y2="59.9" stroke="#222" stroke-width="1.0"/>
<line x1="683.6" y1="59.9" x2="676.6" y2="59.9" stroke="#222" stroke-width="1.0"/>
<line x1="502.5" y1="53.1" x2="505.9" y2="53.1" stroke="#222" stroke-width="1.0"/>
<line x1="683.6" y1="53.1" x2="680.2" y2="53.1" stroke="#222" stroke-width="1.0"/>
<line x1="502.5" y1="46.3" x2="505.9" y2="46.3" stroke="#222" stroke-width="1.0"/>
<line x1="683.6" y1="46.3" x2="680.2" y2="46.3" stroke="#222" stroke-width="1.0"/>
<line x1="502.5" y1="39.4" x2="505.9" y2="39.4" stroke="#222" stroke-width="1.0"/>
<line x1="683.6" y1="39.4" x2="680.2" y2="39.4" stroke="#222" stroke-width="1.0"/>
<line x1="502.5" y1="32.6" x2="505.9" y2="32.6" stroke="#222" stroke-width="1.0"/>
<line x1="683.6" y1="32.6" x2="680.2" y2="32.6" stroke="#222" stroke-width="1.0"/>
<line x1="502.5" y1="25.8" x2="509.5" y2="25.8" stroke="#222" stroke-width="1.0"/>
<line x1="683.6" y1="25.8" x2="676.6" y2="25.8" stroke="#222" stroke-width="1.0"/>
<line x1="502.5" y1="252.2" x2="505.9" y2="252.2" stroke="#222" stroke-width="1.0"/>
<line x1="683.6" y1="252.2" x2="680.2" y2="252.2" stroke="#222" stroke-width="1.0"/>
<line x1="502.5" y1="249.3" x2="505.9" y2="249.3" stroke="#222" stroke-width="1.0"/>
<line x1="683.6" y1="249.3" x2="680.2" y2="249.3" stroke="#222" stroke-width="1.0"/>
<line x1="502.5" y1="247.2" x2="505.9" y2="247.2" stroke="#222" stroke-width="1.0"/>
<line x1="683.6" y1="247.2" x2="680.2" y2="247.2" stroke="#222" stroke-width="1.0"/>
<line x1="502.5" y1="245.6" x2="509.5" y2="245.6" stroke="#222" stroke-width="1.0"/>
<line x1="683.6" y1="245.6" x2="676.6" y2="245.6" stroke="#222" stroke-width="1.0"/>
<line x1="502.5" y1="240.6" x2="505.9" y2="240.6" stroke="#222" stroke-width="1.0"/>
<line x1="683.6" y1="240.6" x2="680.2" y2="240.6" stroke="#222" stroke-width="1.0"/>
<line x1="502.5" y1="235.7" x2="505.9" y2="235.7" stroke="#222" stroke-width="1.0"/>
<line x1="683.6" y1="235.7" x2="680.2" y2="235.7" stroke="#222" stroke-width="1.0"/>
<line x1="502.5" y1="232.8" x2="505.9" y2="232.8" stroke="#222" stroke-width="1.0"/>
<line x1="683.6" y1="232.8" x2="680.2" y2="232.8" stroke="#222" stroke-width="1.0"/>
<line x1="502.5" y1="230.7" x2="505.9" y2="230.7" stroke="#222" stroke-width="1.0"/>
<line x1="683.6" y1="230.7" x2="680.2" y2="230.7" stroke="#222" stroke-width="1.0"/>
<line x1="502.5" y1="229.1" x2="509.5" y2="229.1" stroke="#222" stroke-width="1.0"/>
<line x1="683.6" y1="229.1" x2="676.6" y2="229.1" stroke="#222" stroke-width="1.0"/>
<line x1="502.5" y1="224.1" x2="505.9" y2="224.1" stroke="#222" stroke-width="1.0"/>
<line x1="683.6" y1="224.1" x2="680.2" y2="224.1" stroke="#222" stroke-width="1.0"/>
<line x1="502.5" y1="219.2" x2="505.9" y2="219.2" stroke="#222" stroke-width="1.0"/>
<line x1="683.6" y1="219.2" x2="680.2" y2="219.2" stroke="#222" stroke-width="1.0"/>
<line x1="502.5" y1="216.3" x2="505.9" y2="216.3" stroke="#222" stroke-width="1.0"/>
<line x1="683.6" y1="216.3" x2="680.2" y2="216.3" stroke="#222" stroke-width="1.0"/>
<line x1="502.5" y1="214.2" x2="505.9" y2="214.2" stroke="#222" stroke-width="1.0"/>
<line x1="683.6" y1="214.2" x2="680.2" y2="214.2" stroke="#222" stroke-width="1.0"/>
<line x1="502.5" y1="212.6" x2="509.5" y2="212.6" stroke="#222" stroke-width="1.0"/>
<line x1="683.6" y1="212.6" x2="676.6" y2="212.6" stroke="#222" stroke-width="1.0"/>
<line x1="502.5" y1="207.6" x2="505.9" y2="207.6" stroke="#222" stroke-width="1.0"/>
<line x1="683.6" y1="207.6" x2="680.2" y2="207.6" stroke="#222" stroke-width="1.0"/>
<line x1="502.5" y1="202.7" x2="505.9" y2="202.7" stroke="#222" stroke-width="1.0"/>
<line x1="683.6" y1="202.7" x2="680.2" y2="202.7" stroke="#222" stroke-width="1.0"/>
<line x1="502.5" y1="199.8" x2="505.9" y2="199.8" stroke="#222" stroke-width="1.0"/>
<line x1="683.6" y1="199.8" x2="680.2" y2="199.8" stroke="#222" stroke-width="1.0"/>
<line x1="502.5" y1="197.7" x2="505.9" y2="197.7" stroke="#222" stroke-width="1.0"/>
<line x1="683.6" y1="197.7" x2="680.2" y2="197.7" stroke="#222" stroke-width="1.0"/>
<line x1="502.5" y1="196.1" x2="509.5" y2="196.1" stroke="#222" stroke-width="1.0"/>
<line x1="683.6" y1="196.1" x2="676.6" y2="196.1" stroke="#222" stroke-width="1.0"/>
<line x1="502.5" y1="191.1" x2="505.9" y2="191.1" stroke="#222" stroke-width="1.0"/>
<line x1="683.6" y1="191.1" x2="680.2" y2="191.1" stroke="#222" stroke-width="1.0"/>
<line x1="502.5" y1="186.2" x2="505.9" y2="186.2" stroke="#222" stroke-width="1.0"/>
<line x1="683.6" y1="186.2" x2="680.2" y2="186.2" stroke="#222" stroke-width="1.0"/>
<line x1="502.5" y1="183.3" x2="505.9" y2="183.3" stroke="#222" stroke-width="1.0"/>
<line x1="683.6" y1="183.3" x2="680.2" y2="183.3" stroke="#222" stroke-width="1.0"/>
<line x1="502.5" y1="181.2" x2="505.9" y2="181.2" stroke="#222" stroke-width="1.0"/>
<line x1="683.6" y1="181.2" x2="680.2" y2="181.2" stroke="#222" stroke-width="1.0"/>
<line x1="502.5" y1="179.6" x2="509.5" y2="179.6" stroke="#222" stroke-width="1.0"/>
<line x1="683.6" y1="179.6" x2="676.6" y2="179.6" stroke="#222" stroke-width="1.0"/>
<line x1="502.5" y1="174.6" x2="505.9" y2="174.6" stroke="#222" stroke-width="1.0"/>
<line x1="683.6" y1="174.6" x2="680.2" y2="174.6" stroke="#222" stroke-width="1.0"/>
<line x1="502.5" y1="169.7" x2="505.9" y2="169.7" stroke="#222" stroke-width="1.0"/>
<line x1="683.6" y1="169.7" x2="680.2" y2="169.7" stroke="#222" stroke-width="1.0"/>
<line x1="502.5" y1="166.8" x2="505.9" y2="166.8" stroke="#222" stroke-width="1.0"/>
<line x1="683.6" y1="166.8" x2="680.2" y2="166.8" stroke="#222" stroke-width="1.0"/>
<line x1="502.5" y1="164.7" x2="505.9" y2="164.7" stroke="#222" stroke-width="1.0"/>
<line x1="683.6" y1="164.7" x2="680.2" y2="164.7" stroke="#222" stroke-width="1.0"/>
<line x1="502.5" y1="163.1" x2="509.5" y2="163.1" stroke="#222" stroke-width="1.0"/>
<line x1="683.6" y1="163.1" x2="676.6" y2="163.1" stroke="#222" stroke-width="1.0"/>
<line x1="502.5" y1="158.1" x2="505.9" y2="158.1" stroke="#222" stroke-width="1.0"/>
<line x1="683.6" y1="158.1" x2="680.2" y2="158.1" stroke="#222" stroke-width="1.0"/>
<line x1="502.5" y1="153.2" x2="505.9" y2="153.2" stroke="#222" stroke-width="1.0"/>
<line x1="683.6" y1="153.2" x2="680.2" y2="153.2" stroke="#222" stroke-width="1.0"/>
<line x1="502.5" y1="150.3" x2="505.9" y2="150.3" stroke="#222" stroke-width="1.0"/>
<line x1="683.6" y1="150.3" x2="680.2" y2="150.3" stroke="#222" stroke-width="1.0"/>
<line x1="502.5" y1="148.2" x2="505.9" y2="148.2" stroke="#222" stroke-width="1.0"/>
<line x1="683.6" y1="148.2" x2="680.2" y2="148.2" stroke="#222" stroke-width="1.0"/>
<line x1="502.5" y1="146.6" x2="509.5" y2="146.6" stroke="#222" stroke-width="1.0"/>
<line x1="683.6" y1="146.6" x2="676.6" y2="146.6" stroke="#222" stroke-width="1.0"/>
<line x1="502.5" y1="141.6" x2="505.9" y2="141.6" stroke="#222" stroke-width="1.0"/>
<line x1="683.6" y1="141.6" x2="680.2" y2="141.6" stroke="#222" stroke-width="1.0"/>
<line x1="502.5" y1="136.7" x2="505.9" y2="136.7" stroke="#222" stroke-width="1.0"/>
<line x1="683.6" y1="136.7" x2="680.2" y2="136.7" stroke="#222" stroke-width="1.0"/>
<text x="42.2" y="21.3" font-size="14.5" text-anchor="end">10<tspan dy="-5.2" font-size="9.5">-5</tspan></text>
<text x="42.2" y="152.5" font-size="14.5" text-anchor="end">10<tspan dy="-5.2" font-size="9.5">-5</tspan></text>
<text x="42.2" y="54.9" font-size="14.5" text-anchor="end">10<tspan dy="-5.2" font-size="9.5">-7</tspan></text>
<text x="42.2" y="183.7" font-size="14.5" text-anchor="end">10<tspan dy="-5.2" font-size="9.5">-7</tspan></text>
<text x="42.2" y="88.4" font-size="14.5" text-anchor="end">10<tspan dy="-5.2" font-size="9.5">-9</tspan></text>
<text x="42.2" y="214.9" font-size="14.5" text-anchor="end">10<tspan dy="-5.2" font-size="9.5">-9</tspan></text>
<text x="42.2" y="122" font-size="14.5" text-anchor="end">10<tspan dy="-5.2" font-size="9.5">-11</tspan></text>
<text x="42.2" y="246.1" font-size="14.5" text-anchor="end">10<tspan dy="-5.2" font-size="9.5">-11</tspan></text>
<text x="273.5" y="39" font-size="14.5" text-anchor="end">10<tspan dy="-5.2" font-size="9.5">-7</tspan></text>
<text x="274.8" y="169.7" font-size="14.5" text-anchor="end">10<tspan dy="-5.2" font-size="9.5">-7</tspan></text>
<text x="273.5" y="73.8" font-size="14.5" text-anchor="end">10<tspan dy="-5.2" font-size="9.5">-9</tspan></text>
<text x="274.8" y="203.9" font-size="14.5" text-anchor="end">10<tspan dy="-5.2" font-size="9.5">-9</tspan></text>
<text x="273.5" y="108.5" font-size="14.5" text-anchor="end">10<tspan dy="-5.2" font-size="9.5">-11</tspan></text>
<text x="274.8" y="238.1" font-size="14.5" text-anchor="end">10<tspan dy="-5.2" font-size="9.5">-11</tspan></text>
<text x="499.5" y="168" font-size="14.5" text-anchor="end">10<tspan dy="-5.2" font-size="9.5">-6</tspan></text>
<text x="499.5" y="201" font-size="14.5" text-anchor="end">10<tspan dy="-5.2" font-size="9.5">-8</tspan></text>
<text x="499.5" y="234" font-size="14.5" text-anchor="end">10<tspan dy="-5.2" font-size="9.5">-10</tspan></text>
<text x="498.5" y="133" font-size="14.5" text-anchor="end" >0</text>
<text x="498.5" y="98.9" font-size="14.5" text-anchor="end" >5</text>
<text x="498.5" y="64.8" font-size="14.5" text-anchor="end" >10</text>
<text x="498.5" y="30.7" font-size="14.5" text-anchor="end" >15</text>
<text x="89.4" y="275.8" font-size="14.5" text-anchor="middle" >-40</text>
<text x="136.4" y="275.8" font-size="14.5" text-anchor="middle" >0</text>
<text x="183.4" y="275.8" font-size="14.5" text-anchor="middle" >40</text>
<text x="281.9" y="269.7" font-size="14.5" text-anchor="middle" >-80</text>
<text x="512.2" y="267.7" font-size="14.5" text-anchor="middle" >-80</text>
<text x="322.4" y="269.7" font-size="14.5" text-anchor="middle" >-40</text>
<text x="552.9" y="267.7" font-size="14.5" text-anchor="middle" >-40</text>
<text x="362.9" y="269.7" font-size="14.5" text-anchor="middle" >0</text>
<text x="593.5" y="267.7" font-size="14.5" text-anchor="middle" >0</text>
<text x="403.4" y="269.7" font-size="14.5" text-anchor="middle" >40</text>
<text x="634.1" y="267.7" font-size="14.5" text-anchor="middle" >40</text>
<text x="443.9" y="269.7" font-size="14.5" text-anchor="middle" >80</text>
<text x="674.8" y="267.7" font-size="14.5" text-anchor="middle" >80</text>
<text transform="translate(10.1,62.1) rotate(-90)" font-size="14" text-anchor="middle"><tspan font-style="italic">I</tspan><tspan font-size="10.1" dy="3">ds</tspan><tspan dy="-3"> (A)</tspan></text>
<text transform="translate(13.9,194.6) rotate(-90)" font-size="14.4" text-anchor="middle"><tspan font-style="italic">I</tspan><tspan font-size="10.4" dy="3">ds</tspan><tspan dy="-3"> (A)</tspan></text>
<text transform="translate(243.7,69.6) rotate(-90)" font-size="14.3" text-anchor="middle"><tspan font-style="italic">I</tspan><tspan font-size="10.3" dy="3">ds</tspan><tspan dy="-3"> (A)</tspan></text>
<text transform="translate(243.3,193.8) rotate(-90)" font-size="14" text-anchor="middle"><tspan font-style="italic">I</tspan><tspan font-size="10.1" dy="3">ds</tspan><tspan dy="-3"> (A)</tspan></text>
<text transform="translate(476.5,67.3) rotate(-90)" font-size="14.5" text-anchor="middle"><tspan font-style="italic">I</tspan><tspan font-size="10.4" dy="3">ds</tspan><tspan dy="-3"> (nA)</tspan></text>
<text transform="translate(469.4,192.6) rotate(-90)" font-size="14.4" text-anchor="middle"><tspan font-style="italic">I</tspan><tspan font-size="10.4" dy="3">ds</tspan><tspan dy="-3"> (A)</tspan></text>
<text x="139.2" y="287.7" font-size="14" word-spacing="-1.5" text-anchor="middle"><tspan font-style="italic">V</tspan><tspan font-size="10.1" dy="3">bg</tspan><tspan dy="-3"> (V)</tspan></text>
<text x="365.6" y="281.4" font-size="14" word-spacing="-1.5" text-anchor="middle"><tspan font-style="italic">V</tspan><tspan font-size="10.1" dy="3">bg</tspan><tspan dy="-3"> (V)</tspan></text>
<text x="598.1" y="281.4" font-size="14" word-spacing="-1.5" text-anchor="middle"><tspan font-style="italic">V</tspan><tspan font-size="10.1" dy="3">bg</tspan><tspan dy="-3"> (V)</tspan></text>
<text x="132.6" y="11.8" font-size="16.6" word-spacing="1.2" text-anchor="middle"><tspan font-style="italic">n</tspan> = 10</text>
<text x="358.8" y="12.6" font-size="16.6" word-spacing="0.8" text-anchor="middle"><tspan font-style="italic">n</tspan> = 4</text>
<text x="590" y="13.9" font-size="16.6" word-spacing="0.8" text-anchor="middle"><tspan font-style="italic">n</tspan> = 4</text>
<text x="66.3" y="30.4" font-size="19" font-weight="bold">a</text>
<text x="66.8" y="156.7" font-size="19" font-weight="bold">b</text>
<text x="296.3" y="30.9" font-size="19" font-weight="bold">c</text>
<text x="297.8" y="153" font-size="19" font-weight="bold">d</text>
<text x="533.6" y="38.5" font-size="19" font-weight="bold">e</text>
<text x="530.3" y="154.4" font-size="19" font-weight="bold">f</text>
<text x="98.3" y="34.6" font-size="10.8"><tspan font-style="italic">I</tspan><tspan font-size="7.6" dy="2.4">ON</tspan><tspan dy="-2.4">/</tspan><tspan font-style="italic">I</tspan><tspan font-size="7.6" dy="2.4">OFF</tspan></text>
<text x="135.3" y="34.6" font-size="11">~</text>
<text x="144.5" y="34.6" font-size="11">10<tspan font-size="7.6" dy="-4.6">6</tspan></text>
<text x="161.6" y="34.6" font-size="11">-</text>
<text x="168.0" y="34.6" font-size="11">10<tspan font-size="7.6" dy="-4.6">7</tspan></text>
<text x="62.5" y="110" font-size="11.5" word-spacing="-1.3"><tspan font-style="italic">T</tspan> = 300K</text>
<text x="58.6" y="123.9" font-size="11.5" word-spacing="-1.1"><tspan font-style="italic">V</tspan><tspan font-size="8.6" dy="2.5">ds</tspan><tspan dy="-2.5"> = 50 mV</tspan></text>
</svg>
</body></html>
